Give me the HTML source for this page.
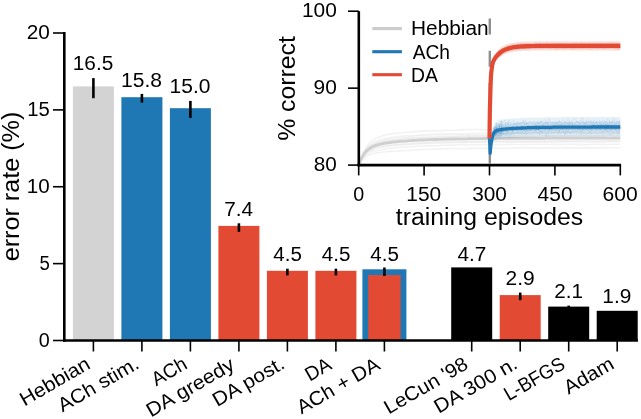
<!DOCTYPE html>
<html><head><meta charset="utf-8"><style>
html,body{margin:0;padding:0;background:#fff;}
svg{display:block;font-family:"Liberation Sans",sans-serif;will-change:transform;}
</style></head><body>
<svg width="641" height="419" viewBox="0 0 641 419">
<rect width="641" height="419" fill="#fff"/>
<rect x="72.90" y="86.40" width="41.00" height="254.10" fill="#d3d3d3"/>
<line x1="93.40" y1="78.1" x2="93.40" y2="98.2" stroke="#000" stroke-width="2.6"/>
<text x="72.79" y="70.40" font-size="20.08" textLength="40.51" lengthAdjust="spacingAndGlyphs" fill="#000">16.5</text>
<line x1="93.40" y1="340.5" x2="93.40" y2="351.5" stroke="#000" stroke-width="1.6"/>
<text x="-76.30" y="0" transform="translate(90.45,368.34) rotate(-30)" font-size="19.69" textLength="77.65" lengthAdjust="spacingAndGlyphs" fill="#000">Hebbian</text>
<rect x="121.40" y="97.20" width="41.00" height="243.30" fill="#1f77b4"/>
<line x1="141.90" y1="93.9" x2="141.90" y2="102.6" stroke="#000" stroke-width="2.6"/>
<text x="121.10" y="86.60" font-size="20.08" textLength="40.92" lengthAdjust="spacingAndGlyphs" fill="#000">15.8</text>
<line x1="141.90" y1="340.5" x2="141.90" y2="351.5" stroke="#000" stroke-width="1.6"/>
<text x="-88.19" y="0" transform="translate(138.95,368.34) rotate(-30)" font-size="19.69" textLength="90.09" lengthAdjust="spacingAndGlyphs" fill="#000">ACh stim.</text>
<rect x="169.90" y="108.20" width="41.00" height="232.30" fill="#1f77b4"/>
<line x1="190.40" y1="100.9" x2="190.40" y2="118.0" stroke="#000" stroke-width="2.6"/>
<text x="169.58" y="92.80" font-size="20.08" textLength="40.86" lengthAdjust="spacingAndGlyphs" fill="#000">15.0</text>
<line x1="190.40" y1="340.5" x2="190.40" y2="351.5" stroke="#000" stroke-width="1.6"/>
<text x="-36.10" y="0" transform="translate(187.45,368.34) rotate(-30)" font-size="19.69" textLength="37.35" lengthAdjust="spacingAndGlyphs" fill="#000">ACh</text>
<rect x="218.40" y="225.90" width="41.00" height="114.60" fill="#e24a33"/>
<line x1="238.90" y1="223.3" x2="238.90" y2="231.9" stroke="#000" stroke-width="2.6"/>
<text x="224.22" y="215.60" font-size="20.08" textLength="28.90" lengthAdjust="spacingAndGlyphs" fill="#000">7.4</text>
<line x1="238.90" y1="340.5" x2="238.90" y2="351.5" stroke="#000" stroke-width="1.6"/>
<text x="-98.21" y="0" transform="translate(235.95,368.34) rotate(-30)" font-size="19.69" textLength="98.25" lengthAdjust="spacingAndGlyphs" fill="#000">DA greedy</text>
<rect x="266.90" y="270.80" width="41.00" height="69.70" fill="#e24a33"/>
<line x1="287.40" y1="268.7" x2="287.40" y2="275.4" stroke="#000" stroke-width="2.6"/>
<text x="273.30" y="261.30" font-size="20.08" textLength="28.60" lengthAdjust="spacingAndGlyphs" fill="#000">4.5</text>
<line x1="287.40" y1="340.5" x2="287.40" y2="351.5" stroke="#000" stroke-width="1.6"/>
<text x="-77.51" y="0" transform="translate(284.45,368.34) rotate(-30)" font-size="19.69" textLength="79.40" lengthAdjust="spacingAndGlyphs" fill="#000">DA post.</text>
<rect x="315.40" y="270.80" width="41.00" height="69.70" fill="#e24a33"/>
<line x1="335.90" y1="268.7" x2="335.90" y2="275.4" stroke="#000" stroke-width="2.6"/>
<text x="321.80" y="261.30" font-size="20.08" textLength="28.60" lengthAdjust="spacingAndGlyphs" fill="#000">4.5</text>
<line x1="335.90" y1="340.5" x2="335.90" y2="351.5" stroke="#000" stroke-width="1.6"/>
<text x="-26.86" y="0" transform="translate(332.95,368.34) rotate(-30)" font-size="19.69" textLength="26.89" lengthAdjust="spacingAndGlyphs" fill="#000">DA</text>
<rect x="362.4" y="269.3" width="44.0" height="71.20" fill="#1f77b4"/>
<rect x="368.2" y="275.0" width="32.4" height="65.50" fill="#e24a33"/>
<line x1="384.40" y1="267.5" x2="384.40" y2="276.0" stroke="#000" stroke-width="2.6"/>
<text x="370.30" y="261.30" font-size="20.08" textLength="28.60" lengthAdjust="spacingAndGlyphs" fill="#000">4.5</text>
<line x1="384.40" y1="340.5" x2="384.40" y2="351.5" stroke="#000" stroke-width="1.6"/>
<text x="-92.44" y="0" transform="translate(381.45,368.34) rotate(-30)" font-size="19.69" textLength="92.48" lengthAdjust="spacingAndGlyphs" fill="#000">ACh + DA</text>
<rect x="451.20" y="267.40" width="41.00" height="73.10" fill="#000"/>
<text x="457.57" y="261.10" font-size="20.08" textLength="28.82" lengthAdjust="spacingAndGlyphs" fill="#000">4.7</text>
<line x1="471.70" y1="340.5" x2="471.70" y2="351.5" stroke="#000" stroke-width="1.6"/>
<text x="-92.38" y="0" transform="translate(468.75,368.34) rotate(-30)" font-size="19.69" textLength="93.28" lengthAdjust="spacingAndGlyphs" fill="#000">LeCun '98</text>
<rect x="499.70" y="295.10" width="41.00" height="45.40" fill="#e24a33"/>
<line x1="520.20" y1="292.6" x2="520.20" y2="300.2" stroke="#000" stroke-width="2.6"/>
<text x="505.58" y="285.20" font-size="20.08" textLength="29.18" lengthAdjust="spacingAndGlyphs" fill="#000">2.9</text>
<line x1="520.20" y1="340.5" x2="520.20" y2="351.5" stroke="#000" stroke-width="1.6"/>
<text x="-90.66" y="0" transform="translate(517.25,368.34) rotate(-30)" font-size="19.69" textLength="92.56" lengthAdjust="spacingAndGlyphs" fill="#000">DA 300 n.</text>
<rect x="548.20" y="306.60" width="41.00" height="33.90" fill="#000"/>
<line x1="568.70" y1="305.6" x2="568.70" y2="307.2" stroke="#000" stroke-width="2.6"/>
<text x="554.30" y="298.30" font-size="20.08" textLength="28.77" lengthAdjust="spacingAndGlyphs" fill="#000">2.1</text>
<line x1="568.70" y1="340.5" x2="568.70" y2="351.5" stroke="#000" stroke-width="1.6"/>
<text x="-65.92" y="0" transform="translate(565.75,368.34) rotate(-30)" font-size="19.69" textLength="66.77" lengthAdjust="spacingAndGlyphs" fill="#000">L-BFGS</text>
<rect x="596.70" y="310.80" width="41.00" height="29.70" fill="#000"/>
<text x="602.39" y="303.00" font-size="20.08" textLength="29.02" lengthAdjust="spacingAndGlyphs" fill="#000">1.9</text>
<line x1="617.20" y1="340.5" x2="617.20" y2="351.5" stroke="#000" stroke-width="1.6"/>
<text x="-52.78" y="0" transform="translate(614.25,368.34) rotate(-30)" font-size="19.69" textLength="54.15" lengthAdjust="spacingAndGlyphs" fill="#000">Adam</text>
<line x1="64.3" y1="32" x2="64.3" y2="341.75" stroke="#000" stroke-width="2.6"/>
<line x1="63" y1="340.5" x2="638" y2="340.5" stroke="#000" stroke-width="2.6"/>
<line x1="53" y1="340.50" x2="64.3" y2="340.50" stroke="#000" stroke-width="1.6"/>
<text x="38.78" y="346.50" font-size="20.08" textLength="10.99" lengthAdjust="spacingAndGlyphs" fill="#000">0</text>
<line x1="53" y1="263.62" x2="64.3" y2="263.62" stroke="#000" stroke-width="1.6"/>
<text x="39.41" y="269.62" font-size="20.08" textLength="10.37" lengthAdjust="spacingAndGlyphs" fill="#000">5</text>
<line x1="53" y1="186.75" x2="64.3" y2="186.75" stroke="#000" stroke-width="1.6"/>
<text x="26.88" y="192.75" font-size="20.08" textLength="22.93" lengthAdjust="spacingAndGlyphs" fill="#000">10</text>
<line x1="53" y1="109.88" x2="64.3" y2="109.88" stroke="#000" stroke-width="1.6"/>
<text x="27.30" y="115.88" font-size="20.08" textLength="22.56" lengthAdjust="spacingAndGlyphs" fill="#000">15</text>
<line x1="53" y1="33.00" x2="64.3" y2="33.00" stroke="#000" stroke-width="1.6"/>
<text x="26.72" y="39.00" font-size="20.08" textLength="23.10" lengthAdjust="spacingAndGlyphs" fill="#000">20</text>
<text x="-74.62" y="0" transform="translate(19.30,186.75) rotate(-90)" font-size="23.00" textLength="149.73" lengthAdjust="spacingAndGlyphs" fill="#000">error rate (%)</text>
<line x1="489.80" y1="18.6" x2="489.80" y2="164" stroke="#8f8f8f" stroke-width="2.4" stroke-dasharray="16 16.2"/>
<polyline points="358.7,165.1 359.1,164.2 359.6,163.4 360.0,162.8 360.4,162.1 360.9,161.5 361.3,161.0 361.8,160.5 362.2,160.0 362.6,159.5 363.1,159.1 363.5,158.7 363.9,158.2 364.4,158.0 364.8,157.5 365.2,157.2 365.7,156.8 366.1,156.5 366.5,156.2 367.0,156.1 367.4,155.9 367.9,155.6 368.3,155.3 368.7,155.1 369.2,154.9 369.6,154.8 370.0,154.5 370.5,154.4 370.9,154.2 371.3,154.1 371.8,154.0 372.2,153.8 372.7,153.7 373.1,153.6 373.5,153.5 374.0,153.4 374.4,153.2 374.8,153.1 375.3,153.0 375.7,153.0 376.1,152.9 377.9,152.6 379.6,152.4 381.4,152.2 383.1,152.0 384.9,151.8 386.6,151.8 388.3,151.5 390.1,151.4 391.8,151.3 393.6,151.2 395.3,151.2 397.1,151.1 398.8,150.9 400.6,150.8 402.3,150.7 404.0,150.7 405.8,150.5 407.5,150.5 409.3,150.4 411.0,150.3 412.8,150.1 414.5,150.0 416.3,150.0 418.0,149.9 419.7,149.7 421.5,149.6 423.2,149.5 425.0,149.4 426.7,149.3 428.5,149.3 430.2,149.3 431.9,149.2 433.7,149.2 435.4,149.1 437.2,149.1 438.9,149.0 440.7,148.9 442.4,148.8 444.2,148.8 445.9,148.7 447.6,148.6 449.4,148.5 451.1,148.5 452.9,148.5 454.6,148.6 456.4,148.7 458.1,148.7 459.9,148.7 461.6,148.7 463.3,148.6 465.1,148.6 466.8,148.6 468.6,148.5 470.3,148.4 472.1,148.3 473.8,148.3 475.5,148.2 477.3,148.1 479.0,148.3 480.8,148.2 482.5,148.2 484.3,148.2 486.0,148.2 487.8,148.2 489.5,148.1 491.2,148.2 493.0,148.2 494.7,148.1 496.5,148.1 498.2,148.2 500.0,148.2 501.7,148.2 503.5,148.2 505.2,148.2 506.9,148.3 508.7,148.3 510.4,148.3 512.2,148.2 513.9,148.1 515.7,148.1 517.4,148.1 519.1,147.9 520.9,147.9 522.6,147.8 524.4,147.9 526.1,147.9 527.9,147.9 529.6,147.9 531.4,147.8 533.1,147.9 534.8,148.0 536.6,148.1 538.3,148.0 540.1,148.0 541.8,147.9 543.6,147.9 545.3,147.9 547.1,147.9 548.8,147.9 550.5,147.9 552.3,147.8 554.0,147.9 555.8,148.0 557.5,148.1 559.3,148.0 561.0,148.0 562.7,148.0 564.5,148.0 566.2,147.9 568.0,147.9 569.7,147.9 571.5,147.9 573.2,147.9 575.0,148.0 576.7,148.0 578.4,147.9 580.2,148.0 581.9,148.0 583.7,148.0 585.4,147.9 587.2,148.0 588.9,147.9 590.7,147.9 592.4,147.9 594.1,147.9 595.9,147.9 597.6,147.9 599.4,147.9 601.1,147.9 602.9,147.8 604.6,147.8 606.3,147.9 608.1,147.8 609.8,147.7 611.6,147.7 613.3,147.7 615.1,147.8 616.8,147.8 618.6,147.7 620.3,147.7" fill="none" stroke="#d3d3d3" stroke-width="1.6" stroke-opacity="0.3" stroke-linejoin="round"/>
<polyline points="358.7,165.1 359.1,164.3 359.6,163.5 360.0,162.5 360.4,161.6 360.9,160.9 361.3,160.2 361.8,159.6 362.2,159.0 362.6,158.4 363.1,157.8 363.5,157.3 363.9,156.8 364.4,156.3 364.8,155.9 365.2,155.5 365.7,155.1 366.1,154.8 366.5,154.4 367.0,154.1 367.4,153.8 367.9,153.5 368.3,153.2 368.7,152.9 369.2,152.6 369.6,152.4 370.0,152.1 370.5,152.0 370.9,151.8 371.3,151.6 371.8,151.5 372.2,151.4 372.7,151.2 373.1,151.1 373.5,150.9 374.0,150.9 374.4,150.8 374.8,150.7 375.3,150.8 375.7,150.7 376.1,150.6 377.9,150.2 379.6,150.0 381.4,149.8 383.1,149.4 384.9,149.1 386.6,148.8 388.3,148.4 390.1,148.2 391.8,148.1 393.6,147.9 395.3,147.7 397.1,147.6 398.8,147.5 400.6,147.4 402.3,147.2 404.0,147.1 405.8,147.0 407.5,147.0 409.3,147.0 411.0,146.8 412.8,146.5 414.5,146.5 416.3,146.3 418.0,146.3 419.7,146.3 421.5,146.2 423.2,146.1 425.0,145.9 426.7,146.0 428.5,146.0 430.2,145.9 431.9,145.9 433.7,145.8 435.4,145.6 437.2,145.5 438.9,145.5 440.7,145.4 442.4,145.4 444.2,145.3 445.9,145.2 447.6,145.1 449.4,145.1 451.1,145.0 452.9,145.1 454.6,145.0 456.4,145.0 458.1,144.8 459.9,144.8 461.6,144.8 463.3,144.8 465.1,144.9 466.8,144.9 468.6,144.8 470.3,144.7 472.1,144.7 473.8,144.7 475.5,144.8 477.3,144.8 479.0,144.7 480.8,144.7 482.5,144.7 484.3,144.7 486.0,144.8 487.8,144.8 489.5,144.8 491.2,144.8 493.0,144.7 494.7,144.8 496.5,144.7 498.2,144.6 500.0,144.6 501.7,144.6 503.5,144.5 505.2,144.5 506.9,144.5 508.7,144.5 510.4,144.4 512.2,144.4 513.9,144.5 515.7,144.5 517.4,144.5 519.1,144.5 520.9,144.6 522.6,144.5 524.4,144.5 526.1,144.6 527.9,144.5 529.6,144.4 531.4,144.3 533.1,144.3 534.8,144.2 536.6,144.2 538.3,144.3 540.1,144.2 541.8,144.2 543.6,144.2 545.3,144.3 547.1,144.4 548.8,144.5 550.5,144.5 552.3,144.4 554.0,144.4 555.8,144.3 557.5,144.4 559.3,144.5 561.0,144.4 562.7,144.4 564.5,144.3 566.2,144.2 568.0,144.2 569.7,144.2 571.5,144.3 573.2,144.3 575.0,144.4 576.7,144.4 578.4,144.4 580.2,144.4 581.9,144.5 583.7,144.6 585.4,144.6 587.2,144.6 588.9,144.6 590.7,144.3 592.4,144.3 594.1,144.3 595.9,144.4 597.6,144.4 599.4,144.3 601.1,144.4 602.9,144.3 604.6,144.4 606.3,144.5 608.1,144.5 609.8,144.4 611.6,144.3 613.3,144.3 615.1,144.3 616.8,144.2 618.6,144.3 620.3,144.3" fill="none" stroke="#d3d3d3" stroke-width="1.6" stroke-opacity="0.3" stroke-linejoin="round"/>
<polyline points="358.7,165.1 359.1,163.9 359.6,162.9 360.0,161.9 360.4,161.0 360.9,160.0 361.3,159.2 361.8,158.3 362.2,157.7 362.6,157.0 363.1,156.5 363.5,155.9 363.9,155.3 364.4,154.8 364.8,154.4 365.2,153.9 365.7,153.6 366.1,153.1 366.5,152.8 367.0,152.3 367.4,152.0 367.9,151.8 368.3,151.4 368.7,151.2 369.2,151.0 369.6,150.7 370.0,150.4 370.5,150.2 370.9,150.0 371.3,149.8 371.8,149.6 372.2,149.3 372.7,149.1 373.1,148.8 373.5,148.7 374.0,148.5 374.4,148.3 374.8,148.2 375.3,148.0 375.7,147.9 376.1,147.7 377.9,147.3 379.6,147.0 381.4,146.6 383.1,146.4 384.9,146.0 386.6,145.8 388.3,145.6 390.1,145.5 391.8,145.3 393.6,145.2 395.3,145.0 397.1,144.9 398.8,144.7 400.6,144.7 402.3,144.5 404.0,144.4 405.8,144.3 407.5,144.2 409.3,144.1 411.0,143.9 412.8,143.8 414.5,143.8 416.3,143.6 418.0,143.5 419.7,143.4 421.5,143.4 423.2,143.2 425.0,143.1 426.7,143.0 428.5,142.9 430.2,142.8 431.9,142.8 433.7,142.6 435.4,142.5 437.2,142.4 438.9,142.5 440.7,142.5 442.4,142.4 444.2,142.4 445.9,142.4 447.6,142.4 449.4,142.5 451.1,142.3 452.9,142.3 454.6,142.2 456.4,142.2 458.1,142.1 459.9,142.2 461.6,142.1 463.3,142.1 465.1,142.1 466.8,142.1 468.6,141.9 470.3,141.9 472.1,141.9 473.8,142.0 475.5,141.9 477.3,141.9 479.0,141.8 480.8,141.7 482.5,141.8 484.3,141.9 486.0,141.8 487.8,141.7 489.5,141.5 491.2,141.5 493.0,141.5 494.7,141.5 496.5,141.5 498.2,141.5 500.0,141.5 501.7,141.5 503.5,141.5 505.2,141.6 506.9,141.6 508.7,141.5 510.4,141.6 512.2,141.6 513.9,141.5 515.7,141.6 517.4,141.5 519.1,141.5 520.9,141.6 522.6,141.6 524.4,141.6 526.1,141.6 527.9,141.6 529.6,141.7 531.4,141.6 533.1,141.6 534.8,141.6 536.6,141.6 538.3,141.6 540.1,141.6 541.8,141.6 543.6,141.6 545.3,141.4 547.1,141.5 548.8,141.5 550.5,141.5 552.3,141.5 554.0,141.5 555.8,141.4 557.5,141.5 559.3,141.4 561.0,141.4 562.7,141.3 564.5,141.3 566.2,141.3 568.0,141.3 569.7,141.3 571.5,141.3 573.2,141.2 575.0,141.3 576.7,141.3 578.4,141.2 580.2,141.2 581.9,141.2 583.7,141.2 585.4,141.2 587.2,141.2 588.9,141.4 590.7,141.3 592.4,141.4 594.1,141.5 595.9,141.6 597.6,141.5 599.4,141.5 601.1,141.5 602.9,141.4 604.6,141.2 606.3,141.2 608.1,141.1 609.8,141.1 611.6,141.1 613.3,141.2 615.1,141.1 616.8,141.2 618.6,141.2 620.3,141.3" fill="none" stroke="#d3d3d3" stroke-width="1.6" stroke-opacity="0.3" stroke-linejoin="round"/>
<polyline points="358.7,165.4 359.1,164.0 359.6,162.8 360.0,161.5 360.4,160.3 360.9,159.4 361.3,158.4 361.8,157.3 362.2,156.4 362.6,155.5 363.1,154.7 363.5,153.9 363.9,153.2 364.4,152.5 364.8,151.8 365.2,151.2 365.7,150.6 366.1,150.0 366.5,149.6 367.0,149.2 367.4,148.8 367.9,148.3 368.3,147.9 368.7,147.5 369.2,147.1 369.6,146.9 370.0,146.6 370.5,146.3 370.9,145.9 371.3,145.7 371.8,145.6 372.2,145.3 372.7,145.2 373.1,145.0 373.5,144.7 374.0,144.4 374.4,144.3 374.8,144.1 375.3,143.8 375.7,143.6 376.1,143.4 377.9,142.8 379.6,142.3 381.4,141.8 383.1,141.5 384.9,141.1 386.6,140.8 388.3,140.6 390.1,140.3 391.8,140.2 393.6,139.9 395.3,139.7 397.1,139.5 398.8,139.2 400.6,139.0 402.3,138.8 404.0,138.6 405.8,138.4 407.5,138.2 409.3,138.1 411.0,138.0 412.8,137.9 414.5,137.8 416.3,137.9 418.0,138.0 419.7,138.0 421.5,137.8 423.2,137.9 425.0,137.8 426.7,137.7 428.5,137.6 430.2,137.5 431.9,137.4 433.7,137.3 435.4,137.2 437.2,137.2 438.9,137.1 440.7,137.0 442.4,137.0 444.2,137.0 445.9,137.0 447.6,136.9 449.4,136.9 451.1,136.9 452.9,136.8 454.6,136.7 456.4,136.6 458.1,136.6 459.9,136.5 461.6,136.3 463.3,136.4 465.1,136.3 466.8,136.1 468.6,136.0 470.3,136.1 472.1,136.2 473.8,136.0 475.5,136.0 477.3,136.0 479.0,136.0 480.8,136.0 482.5,136.0 484.3,136.1 486.0,136.1 487.8,136.0 489.5,136.1 491.2,136.2 493.0,136.2 494.7,136.3 496.5,136.2 498.2,136.2 500.0,136.2 501.7,136.4 503.5,136.3 505.2,136.3 506.9,136.1 508.7,136.0 510.4,136.0 512.2,136.1 513.9,136.1 515.7,136.1 517.4,136.0 519.1,136.1 520.9,136.2 522.6,136.2 524.4,136.4 526.1,136.4 527.9,136.3 529.6,136.2 531.4,136.2 533.1,136.2 534.8,136.2 536.6,136.2 538.3,136.2 540.1,136.0 541.8,135.9 543.6,135.8 545.3,135.8 547.1,135.8 548.8,135.7 550.5,135.7 552.3,135.6 554.0,135.6 555.8,135.7 557.5,135.8 559.3,135.9 561.0,136.0 562.7,136.0 564.5,135.9 566.2,135.9 568.0,135.9 569.7,135.9 571.5,135.8 573.2,135.9 575.0,135.9 576.7,135.8 578.4,135.7 580.2,135.8 581.9,135.8 583.7,135.8 585.4,135.8 587.2,135.9 588.9,135.7 590.7,135.8 592.4,135.9 594.1,135.9 595.9,135.9 597.6,136.0 599.4,135.8 601.1,135.9 602.9,135.9 604.6,136.0 606.3,135.9 608.1,135.8 609.8,135.8 611.6,136.0 613.3,136.0 615.1,136.2 616.8,136.1 618.6,136.2 620.3,136.1" fill="none" stroke="#d3d3d3" stroke-width="1.6" stroke-opacity="0.3" stroke-linejoin="round"/>
<polyline points="358.7,164.9 359.1,163.6 359.6,162.2 360.0,161.0 360.4,159.8 360.9,158.7 361.3,157.6 361.8,156.6 362.2,155.7 362.6,154.9 363.1,154.0 363.5,153.2 363.9,152.5 364.4,151.8 364.8,151.0 365.2,150.4 365.7,149.9 366.1,149.2 366.5,148.5 367.0,147.9 367.4,147.4 367.9,146.9 368.3,146.5 368.7,146.0 369.2,145.7 369.6,145.3 370.0,145.0 370.5,144.7 370.9,144.6 371.3,144.2 371.8,144.0 372.2,143.7 372.7,143.5 373.1,143.2 373.5,142.9 374.0,142.8 374.4,142.5 374.8,142.2 375.3,142.0 375.7,141.7 376.1,141.4 377.9,140.7 379.6,140.1 381.4,139.7 383.1,139.2 384.9,138.7 386.6,138.4 388.3,138.0 390.1,137.8 391.8,137.4 393.6,137.2 395.3,137.0 397.1,136.6 398.8,136.4 400.6,136.3 402.3,136.1 404.0,136.0 405.8,135.8 407.5,135.7 409.3,135.7 411.0,135.6 412.8,135.6 414.5,135.5 416.3,135.3 418.0,135.2 419.7,135.1 421.5,135.1 423.2,134.9 425.0,134.7 426.7,134.5 428.5,134.5 430.2,134.4 431.9,134.3 433.7,134.3 435.4,134.3 437.2,134.1 438.9,134.1 440.7,134.2 442.4,134.1 444.2,134.1 445.9,134.1 447.6,134.1 449.4,134.1 451.1,134.1 452.9,134.0 454.6,134.1 456.4,134.0 458.1,134.0 459.9,134.0 461.6,133.9 463.3,134.0 465.1,133.8 466.8,133.7 468.6,133.6 470.3,133.5 472.1,133.4 473.8,133.4 475.5,133.4 477.3,133.3 479.0,133.3 480.8,133.3 482.5,133.4 484.3,133.4 486.0,133.3 487.8,133.4 489.5,133.4 491.2,133.3 493.0,133.4 494.7,133.3 496.5,133.3 498.2,133.4 500.0,133.5 501.7,133.4 503.5,133.4 505.2,133.4 506.9,133.3 508.7,133.4 510.4,133.4 512.2,133.4 513.9,133.2 515.7,133.3 517.4,133.3 519.1,133.3 520.9,133.4 522.6,133.4 524.4,133.3 526.1,133.4 527.9,133.4 529.6,133.4 531.4,133.2 533.1,133.3 534.8,133.2 536.6,133.1 538.3,133.2 540.1,133.2 541.8,133.1 543.6,133.1 545.3,133.2 547.1,133.3 548.8,133.2 550.5,133.3 552.3,133.3 554.0,133.3 555.8,133.3 557.5,133.2 559.3,133.1 561.0,133.1 562.7,132.9 564.5,133.0 566.2,132.9 568.0,132.9 569.7,132.9 571.5,132.8 573.2,132.9 575.0,133.0 576.7,133.0 578.4,133.1 580.2,133.0 581.9,133.1 583.7,133.0 585.4,133.1 587.2,133.2 588.9,133.0 590.7,133.1 592.4,133.1 594.1,133.2 595.9,133.2 597.6,133.2 599.4,133.2 601.1,133.3 602.9,133.3 604.6,133.4 606.3,133.4 608.1,133.4 609.8,133.3 611.6,133.3 613.3,133.3 615.1,133.2 616.8,133.2 618.6,133.2 620.3,133.1" fill="none" stroke="#d3d3d3" stroke-width="1.6" stroke-opacity="0.3" stroke-linejoin="round"/>
<polyline points="358.7,164.9 359.1,163.3 359.6,161.8 360.0,160.4 360.4,159.1 360.9,158.0 361.3,156.9 361.8,155.9 362.2,154.8 362.6,153.8 363.1,152.9 363.5,152.0 363.9,151.1 364.4,150.4 364.8,149.6 365.2,148.9 365.7,148.2 366.1,147.6 366.5,146.8 367.0,146.3 367.4,145.7 367.9,145.2 368.3,144.6 368.7,144.0 369.2,143.5 369.6,142.9 370.0,142.4 370.5,142.1 370.9,141.6 371.3,141.3 371.8,140.9 372.2,140.6 372.7,140.2 373.1,139.9 373.5,139.5 374.0,139.5 374.4,139.2 374.8,138.9 375.3,138.7 375.7,138.5 376.1,138.3 377.9,137.6 379.6,136.9 381.4,136.2 383.1,135.6 384.9,135.2 386.6,134.8 388.3,134.5 390.1,134.1 391.8,133.8 393.6,133.5 395.3,133.2 397.1,133.1 398.8,133.0 400.6,132.8 402.3,132.7 404.0,132.5 405.8,132.5 407.5,132.3 409.3,132.2 411.0,132.1 412.8,131.9 414.5,131.7 416.3,131.6 418.0,131.4 419.7,131.2 421.5,131.0 423.2,131.0 425.0,130.9 426.7,130.9 428.5,130.9 430.2,131.0 431.9,130.9 433.7,130.9 435.4,130.9 437.2,130.8 438.9,130.7 440.7,130.7 442.4,130.5 444.2,130.6 445.9,130.4 447.6,130.4 449.4,130.3 451.1,130.3 452.9,130.3 454.6,130.3 456.4,130.2 458.1,130.2 459.9,130.1 461.6,130.0 463.3,129.8 465.1,129.8 466.8,129.8 468.6,129.6 470.3,129.5 472.1,129.5 473.8,129.5 475.5,129.5 477.3,129.6 479.0,129.7 480.8,129.6 482.5,129.6 484.3,129.7 486.0,129.8 487.8,129.8 489.5,129.8 491.2,129.8 493.0,129.7 494.7,129.7 496.5,129.7 498.2,129.6 500.0,129.6 501.7,129.5 503.5,129.5 505.2,129.4 506.9,129.4 508.7,129.4 510.4,129.4 512.2,129.5 513.9,129.5 515.7,129.6 517.4,129.5 519.1,129.5 520.9,129.5 522.6,129.5 524.4,129.7 526.1,129.7 527.9,129.8 529.6,129.7 531.4,129.6 533.1,129.6 534.8,129.6 536.6,129.7 538.3,129.6 540.1,129.5 541.8,129.4 543.6,129.3 545.3,129.1 547.1,129.1 548.8,129.1 550.5,129.0 552.3,129.0 554.0,129.1 555.8,129.2 557.5,129.2 559.3,129.3 561.0,129.4 562.7,129.4 564.5,129.3 566.2,129.4 568.0,129.4 569.7,129.4 571.5,129.3 573.2,129.3 575.0,129.2 576.7,129.3 578.4,129.4 580.2,129.5 581.9,129.5 583.7,129.4 585.4,129.5 587.2,129.5 588.9,129.6 590.7,129.5 592.4,129.5 594.1,129.4 595.9,129.5 597.6,129.6 599.4,129.5 601.1,129.6 602.9,129.6 604.6,129.5 606.3,129.6 608.1,129.6 609.8,129.6 611.6,129.5 613.3,129.4 615.1,129.6 616.8,129.5 618.6,129.5 620.3,129.6" fill="none" stroke="#d3d3d3" stroke-width="1.6" stroke-opacity="0.3" stroke-linejoin="round"/>
<polygon points="358.7,165.1 359.1,163.7 359.6,162.3 360.0,161.1 360.4,159.9 360.9,158.7 361.3,157.7 361.8,156.7 362.2,155.7 362.6,154.8 363.1,154.0 363.5,153.2 363.9,152.4 364.4,151.7 364.8,151.1 365.2,150.4 365.7,149.8 366.1,149.2 366.5,148.7 367.0,148.2 367.4,147.7 367.9,147.2 368.3,146.8 368.7,146.4 369.2,146.0 369.6,145.6 370.0,145.2 370.5,144.9 370.9,144.6 371.3,144.2 371.8,144.0 372.2,143.7 372.7,143.4 373.1,143.1 373.5,142.9 374.0,142.7 374.4,142.4 374.8,142.2 375.3,142.0 375.7,141.8 376.1,141.6 377.9,141.0 379.6,140.4 381.4,139.9 383.1,139.4 384.9,139.0 386.6,138.7 388.3,138.4 390.1,138.1 391.8,137.9 393.6,137.6 395.3,137.4 397.1,137.2 398.8,137.0 400.6,136.9 402.3,136.7 404.0,136.5 405.8,136.4 407.5,136.3 409.3,136.1 411.0,136.0 412.8,135.9 414.5,135.8 416.3,135.7 418.0,135.6 419.7,135.5 421.5,135.4 423.2,135.3 425.0,135.3 426.7,135.2 428.5,135.1 430.2,135.1 431.9,135.0 433.7,134.9 435.4,134.9 437.2,134.8 438.9,134.7 440.7,134.7 442.4,134.6 444.2,134.6 445.9,134.6 447.6,134.5 449.4,134.5 451.1,134.4 452.9,134.4 454.6,134.4 456.4,134.3 458.1,134.3 459.9,134.3 461.6,134.2 463.3,134.2 465.1,134.2 466.8,134.1 468.6,134.1 470.3,134.1 472.1,134.1 473.8,134.0 475.5,134.0 477.3,134.0 479.0,134.0 480.8,134.0 482.5,133.9 484.3,133.9 486.0,133.9 487.8,133.9 489.5,133.9 491.2,133.9 493.0,133.9 494.7,133.8 496.5,133.8 498.2,133.8 500.0,133.8 501.7,133.8 503.5,133.8 505.2,133.8 506.9,133.8 508.7,133.8 510.4,133.7 512.2,133.7 513.9,133.7 515.7,133.7 517.4,133.7 519.1,133.7 520.9,133.7 522.6,133.7 524.4,133.7 526.1,133.7 527.9,133.7 529.6,133.7 531.4,133.7 533.1,133.7 534.8,133.7 536.6,133.6 538.3,133.6 540.1,133.6 541.8,133.6 543.6,133.6 545.3,133.6 547.1,133.6 548.8,133.6 550.5,133.6 552.3,133.6 554.0,133.6 555.8,133.6 557.5,133.6 559.3,133.6 561.0,133.6 562.7,133.6 564.5,133.6 566.2,133.6 568.0,133.6 569.7,133.6 571.5,133.6 573.2,133.6 575.0,133.6 576.7,133.6 578.4,133.6 580.2,133.6 581.9,133.6 583.7,133.6 585.4,133.6 587.2,133.6 588.9,133.6 590.7,133.6 592.4,133.6 594.1,133.6 595.9,133.6 597.6,133.6 599.4,133.6 601.1,133.6 602.9,133.6 604.6,133.6 606.3,133.6 608.1,133.6 609.8,133.6 611.6,133.6 613.3,133.6 615.1,133.6 616.8,133.6 618.6,133.6 620.3,133.6 620.3,142.8 618.6,142.8 616.8,142.8 615.1,142.8 613.3,142.8 611.6,142.8 609.8,142.8 608.1,142.8 606.3,142.8 604.6,142.8 602.9,142.8 601.1,142.8 599.4,142.8 597.6,142.8 595.9,142.8 594.1,142.8 592.4,142.8 590.7,142.8 588.9,142.8 587.2,142.8 585.4,142.8 583.7,142.8 581.9,142.8 580.2,142.8 578.4,142.8 576.7,142.8 575.0,142.8 573.2,142.8 571.5,142.8 569.7,142.8 568.0,142.8 566.2,142.8 564.5,142.8 562.7,142.8 561.0,142.8 559.3,142.8 557.5,142.8 555.8,142.8 554.0,142.8 552.3,142.9 550.5,142.9 548.8,142.9 547.1,142.9 545.3,142.9 543.6,142.9 541.8,142.9 540.1,142.9 538.3,142.9 536.6,142.9 534.8,142.9 533.1,142.9 531.4,142.9 529.6,142.9 527.9,142.9 526.1,142.9 524.4,142.9 522.6,142.9 520.9,142.9 519.1,142.9 517.4,142.9 515.7,143.0 513.9,143.0 512.2,143.0 510.4,143.0 508.7,143.0 506.9,143.0 505.2,143.0 503.5,143.0 501.7,143.0 500.0,143.0 498.2,143.0 496.5,143.1 494.7,143.1 493.0,143.1 491.2,143.1 489.5,143.1 487.8,143.1 486.0,143.1 484.3,143.2 482.5,143.2 480.8,143.2 479.0,143.2 477.3,143.2 475.5,143.3 473.8,143.3 472.1,143.3 470.3,143.3 468.6,143.3 466.8,143.4 465.1,143.4 463.3,143.4 461.6,143.5 459.9,143.5 458.1,143.5 456.4,143.6 454.6,143.6 452.9,143.6 451.1,143.7 449.4,143.7 447.6,143.7 445.9,143.8 444.2,143.8 442.4,143.9 440.7,143.9 438.9,144.0 437.2,144.0 435.4,144.1 433.7,144.1 431.9,144.2 430.2,144.3 428.5,144.3 426.7,144.4 425.0,144.5 423.2,144.6 421.5,144.6 419.7,144.7 418.0,144.8 416.3,144.9 414.5,145.0 412.8,145.1 411.0,145.2 409.3,145.3 407.5,145.4 405.8,145.5 404.0,145.6 402.3,145.8 400.6,145.9 398.8,146.0 397.1,146.2 395.3,146.3 393.6,146.5 391.8,146.6 390.1,146.8 388.3,147.0 386.6,147.2 384.9,147.4 383.1,147.7 381.4,147.9 379.6,148.2 377.9,148.6 376.1,149.0 375.7,149.1 375.3,149.2 374.8,149.4 374.4,149.5 374.0,149.6 373.5,149.8 373.1,149.9 372.7,150.1 372.2,150.2 371.8,150.4 371.3,150.6 370.9,150.8 370.5,151.0 370.0,151.2 369.6,151.4 369.2,151.7 368.7,151.9 368.3,152.2 367.9,152.5 367.4,152.8 367.0,153.1 366.5,153.4 366.1,153.8 365.7,154.2 365.2,154.6 364.8,155.0 364.4,155.5 363.9,156.0 363.5,156.5 363.1,157.0 362.6,157.6 362.2,158.3 361.8,158.9 361.3,159.7 360.9,160.4 360.4,161.2 360.0,162.1 359.6,163.0 359.1,164.0 358.7,165.1" fill="#d3d3d3" fill-opacity="0.18" stroke="none"/>
<polyline points="358.7,165.1 359.1,163.9 359.6,162.7 360.0,161.6 360.4,160.6 360.9,159.6 361.3,158.7 361.8,157.8 362.2,157.0 362.6,156.2 363.1,155.5 363.5,154.8 363.9,154.2 364.4,153.6 364.8,153.0 365.2,152.5 365.7,152.0 366.1,151.5 366.5,151.1 367.0,150.6 367.4,150.2 367.9,149.8 368.3,149.5 368.7,149.1 369.2,148.8 369.6,148.5 370.0,148.2 370.5,147.9 370.9,147.7 371.3,147.4 371.8,147.2 372.2,147.0 372.7,146.7 373.1,146.5 373.5,146.3 374.0,146.1 374.4,146.0 374.8,145.8 375.3,145.6 375.7,145.5 376.1,145.3 377.9,144.8 379.6,144.3 381.4,143.9 383.1,143.5 384.9,143.2 386.6,143.0 388.3,142.7 390.1,142.5 391.8,142.2 393.6,142.0 395.3,141.9 397.1,141.7 398.8,141.5 400.6,141.4 402.3,141.2 404.0,141.1 405.8,141.0 407.5,140.8 409.3,140.7 411.0,140.6 412.8,140.5 414.5,140.4 416.3,140.3 418.0,140.2 419.7,140.1 421.5,140.0 423.2,140.0 425.0,139.9 426.7,139.8 428.5,139.7 430.2,139.7 431.9,139.6 433.7,139.5 435.4,139.5 437.2,139.4 438.9,139.4 440.7,139.3 442.4,139.3 444.2,139.2 445.9,139.2 447.6,139.1 449.4,139.1 451.1,139.0 452.9,139.0 454.6,139.0 456.4,138.9 458.1,138.9 459.9,138.9 461.6,138.8 463.3,138.8 465.1,138.8 466.8,138.8 468.6,138.7 470.3,138.7 472.1,138.7 473.8,138.7 475.5,138.6 477.3,138.6 479.0,138.6 480.8,138.6 482.5,138.6 484.3,138.5 486.0,138.5 487.8,138.5 489.5,138.5 491.2,138.5 493.0,138.5 494.7,138.5 496.5,138.4 498.2,138.4 500.0,138.4 501.7,138.4 503.5,138.4 505.2,138.4 506.9,138.4 508.7,138.4 510.4,138.4 512.2,138.4 513.9,138.3 515.7,138.3 517.4,138.3 519.1,138.3 520.9,138.3 522.6,138.3 524.4,138.3 526.1,138.3 527.9,138.3 529.6,138.3 531.4,138.3 533.1,138.3 534.8,138.3 536.6,138.3 538.3,138.3 540.1,138.3 541.8,138.3 543.6,138.3 545.3,138.2 547.1,138.2 548.8,138.2 550.5,138.2 552.3,138.2 554.0,138.2 555.8,138.2 557.5,138.2 559.3,138.2 561.0,138.2 562.7,138.2 564.5,138.2 566.2,138.2 568.0,138.2 569.7,138.2 571.5,138.2 573.2,138.2 575.0,138.2 576.7,138.2 578.4,138.2 580.2,138.2 581.9,138.2 583.7,138.2 585.4,138.2 587.2,138.2 588.9,138.2 590.7,138.2 592.4,138.2 594.1,138.2 595.9,138.2 597.6,138.2 599.4,138.2 601.1,138.2 602.9,138.2 604.6,138.2 606.3,138.2 608.1,138.2 609.8,138.2 611.6,138.2 613.3,138.2 615.1,138.2 616.8,138.2 618.6,138.2 620.3,138.2" fill="none" stroke="#cfcfcf" stroke-width="2.8" stroke-opacity="1.0" stroke-linejoin="round"/>
<polygon points="490.2,151.1 490.4,147.8 490.6,144.9 490.8,142.3 491.0,140.0 491.2,137.9 491.5,136.1 491.7,134.4 491.9,133.0 492.1,131.7 492.3,130.5 492.6,129.4 492.8,128.5 493.0,127.6 493.2,126.9 493.4,126.2 493.6,125.6 493.9,125.0 494.1,124.5 494.3,124.1 494.5,123.7 494.7,123.3 494.9,123.0 495.2,122.7 495.4,122.4 495.6,122.2 495.8,121.9 496.0,121.7 496.3,121.5 496.5,121.4 496.7,121.2 496.9,121.1 497.1,120.9 497.3,120.8 497.6,120.7 497.8,120.6 498.0,120.5 498.2,120.4 498.4,120.3 498.7,120.3 498.9,120.2 499.1,120.1 499.3,120.1 499.5,120.0 499.7,119.9 500.0,119.9 500.2,119.8 500.4,119.8 500.6,119.7 500.8,119.7 501.1,119.7 501.3,119.6 501.5,119.6 501.7,119.5 501.9,119.5 502.1,119.5 502.4,119.4 502.6,119.4 503.7,119.3 504.8,119.1 505.8,119.0 506.9,118.9 508.0,118.8 509.1,118.7 510.2,118.6 511.3,118.6 512.4,118.5 513.5,118.4 514.6,118.3 515.7,118.3 516.8,118.2 517.8,118.2 518.9,118.1 520.0,118.0 521.1,118.0 522.2,118.0 523.3,117.9 524.4,117.9 525.5,117.8 526.6,117.8 527.6,117.7 528.7,117.7 529.8,117.7 530.9,117.6 532.0,117.6 533.1,117.6 534.2,117.6 535.3,117.5 536.4,117.5 537.5,117.5 538.5,117.5 539.6,117.4 540.7,117.4 541.8,117.4 542.9,117.4 544.0,117.4 545.1,117.3 546.2,117.3 547.3,117.3 548.4,117.3 549.4,117.3 550.5,117.3 551.6,117.3 552.7,117.2 553.8,117.2 554.9,117.2 556.0,117.2 557.1,117.2 558.2,117.2 559.3,117.2 560.3,117.2 561.4,117.2 562.5,117.2 563.6,117.1 564.7,117.1 565.8,117.1 566.9,117.1 568.0,117.1 569.1,117.1 570.2,117.1 571.2,117.1 572.3,117.1 573.4,117.1 574.5,117.1 575.6,117.1 576.7,117.1 577.8,117.1 578.9,117.1 580.0,117.1 581.1,117.1 582.1,117.1 583.2,117.1 584.3,117.1 585.4,117.1 586.5,117.1 587.6,117.1 588.7,117.1 589.8,117.0 590.9,117.0 592.0,117.0 593.0,117.0 594.1,117.0 595.2,117.0 596.3,117.0 597.4,117.0 598.5,117.0 599.6,117.0 600.7,117.0 601.8,117.0 602.9,117.0 603.9,117.0 605.0,117.0 606.1,117.0 607.2,117.0 608.3,117.0 609.4,117.0 610.5,117.0 611.6,117.0 612.7,117.0 613.8,117.0 614.8,117.0 615.9,117.0 617.0,117.0 618.1,117.0 619.2,117.0 620.3,117.0 620.3,136.6 619.2,136.6 618.1,136.6 617.0,136.6 615.9,136.6 614.8,136.6 613.8,136.6 612.7,136.6 611.6,136.6 610.5,136.6 609.4,136.6 608.3,136.6 607.2,136.6 606.1,136.6 605.0,136.6 603.9,136.7 602.9,136.7 601.8,136.7 600.7,136.7 599.6,136.7 598.5,136.7 597.4,136.7 596.3,136.7 595.2,136.7 594.1,136.7 593.0,136.7 592.0,136.7 590.9,136.7 589.8,136.7 588.7,136.7 587.6,136.7 586.5,136.7 585.4,136.7 584.3,136.7 583.2,136.7 582.1,136.7 581.1,136.7 580.0,136.7 578.9,136.7 577.8,136.7 576.7,136.7 575.6,136.7 574.5,136.7 573.4,136.7 572.3,136.7 571.2,136.7 570.2,136.7 569.1,136.7 568.0,136.7 566.9,136.8 565.8,136.8 564.7,136.8 563.6,136.8 562.5,136.8 561.4,136.8 560.3,136.8 559.3,136.8 558.2,136.8 557.1,136.8 556.0,136.8 554.9,136.8 553.8,136.9 552.7,136.9 551.6,136.9 550.5,136.9 549.4,136.9 548.4,136.9 547.3,136.9 546.2,136.9 545.1,137.0 544.0,137.0 542.9,137.0 541.8,137.0 540.7,137.0 539.6,137.1 538.5,137.1 537.5,137.1 536.4,137.1 535.3,137.1 534.2,137.2 533.1,137.2 532.0,137.2 530.9,137.3 529.8,137.3 528.7,137.3 527.6,137.4 526.6,137.4 525.5,137.4 524.4,137.5 523.3,137.5 522.2,137.6 521.1,137.6 520.0,137.7 518.9,137.7 517.8,137.8 516.8,137.8 515.7,137.9 514.6,138.0 513.5,138.0 512.4,138.1 511.3,138.2 510.2,138.3 509.1,138.3 508.0,138.4 506.9,138.5 505.8,138.6 504.8,138.7 503.7,138.8 502.6,138.9 502.4,138.9 502.1,138.9 501.9,139.0 501.7,139.0 501.5,139.0 501.3,139.0 501.1,139.0 500.8,139.1 500.6,139.1 500.4,139.1 500.2,139.1 500.0,139.2 499.7,139.2 499.5,139.2 499.3,139.2 499.1,139.2 498.9,139.3 498.7,139.3 498.4,139.3 498.2,139.4 498.0,139.4 497.8,139.4 497.6,139.4 497.3,139.5 497.1,139.5 496.9,139.6 496.7,139.6 496.5,139.7 496.3,139.7 496.0,139.8 495.8,139.9 495.6,140.0 495.4,140.1 495.2,140.2 494.9,140.3 494.7,140.4 494.5,140.6 494.3,140.8 494.1,141.0 493.9,141.3 493.6,141.5 493.4,141.9 493.2,142.3 493.0,142.7 492.8,143.2 492.6,143.8 492.3,144.5 492.1,145.3 491.9,146.2 491.7,147.3 491.5,148.5 491.2,149.9 491.0,151.6 490.8,153.4 490.6,155.6 490.4,158.1 490.2,161.1" fill="#1f77b4" fill-opacity="0.11" stroke="none"/>
<polygon points="490.2,152.1 490.4,149.2 490.6,146.5 490.8,144.1 491.0,142.0 491.2,140.2 491.5,138.5 491.7,137.1 491.9,135.7 492.1,134.6 492.3,133.5 492.6,132.6 492.8,131.8 493.0,131.0 493.2,130.4 493.4,129.8 493.6,129.2 493.9,128.8 494.1,128.3 494.3,127.9 494.5,127.6 494.7,127.3 494.9,127.0 495.2,126.8 495.4,126.5 495.6,126.3 495.8,126.1 496.0,126.0 496.3,125.8 496.5,125.7 496.7,125.5 496.9,125.4 497.1,125.3 497.3,125.2 497.6,125.1 497.8,125.0 498.0,124.9 498.2,124.9 498.4,124.8 498.7,124.7 498.9,124.7 499.1,124.6 499.3,124.6 499.5,124.5 499.7,124.5 500.0,124.4 500.2,124.4 500.4,124.3 500.6,124.3 500.8,124.3 501.1,124.2 501.3,124.2 501.5,124.2 501.7,124.1 501.9,124.1 502.1,124.1 502.4,124.0 502.6,124.0 503.7,123.9 504.8,123.7 505.8,123.6 506.9,123.5 508.0,123.4 509.1,123.3 510.2,123.3 511.3,123.2 512.4,123.1 513.5,123.0 514.6,123.0 515.7,122.9 516.8,122.8 517.8,122.8 518.9,122.7 520.0,122.7 521.1,122.6 522.2,122.6 523.3,122.5 524.4,122.5 525.5,122.4 526.6,122.4 527.6,122.4 528.7,122.3 529.8,122.3 530.9,122.3 532.0,122.2 533.1,122.2 534.2,122.2 535.3,122.1 536.4,122.1 537.5,122.1 538.5,122.1 539.6,122.0 540.7,122.0 541.8,122.0 542.9,122.0 544.0,122.0 545.1,122.0 546.2,121.9 547.3,121.9 548.4,121.9 549.4,121.9 550.5,121.9 551.6,121.9 552.7,121.9 553.8,121.8 554.9,121.8 556.0,121.8 557.1,121.8 558.2,121.8 559.3,121.8 560.3,121.8 561.4,121.8 562.5,121.8 563.6,121.8 564.7,121.8 565.8,121.8 566.9,121.7 568.0,121.7 569.1,121.7 570.2,121.7 571.2,121.7 572.3,121.7 573.4,121.7 574.5,121.7 575.6,121.7 576.7,121.7 577.8,121.7 578.9,121.7 580.0,121.7 581.1,121.7 582.1,121.7 583.2,121.7 584.3,121.7 585.4,121.7 586.5,121.7 587.6,121.7 588.7,121.7 589.8,121.7 590.9,121.7 592.0,121.7 593.0,121.7 594.1,121.7 595.2,121.7 596.3,121.7 597.4,121.7 598.5,121.7 599.6,121.7 600.7,121.6 601.8,121.6 602.9,121.6 603.9,121.6 605.0,121.6 606.1,121.6 607.2,121.6 608.3,121.6 609.4,121.6 610.5,121.6 611.6,121.6 612.7,121.6 613.8,121.6 614.8,121.6 615.9,121.6 617.0,121.6 618.1,121.6 619.2,121.6 620.3,121.6 620.3,132.8 619.2,132.8 618.1,132.8 617.0,132.8 615.9,132.8 614.8,132.8 613.8,132.8 612.7,132.8 611.6,132.8 610.5,132.8 609.4,132.8 608.3,132.8 607.2,132.8 606.1,132.8 605.0,132.8 603.9,132.8 602.9,132.8 601.8,132.8 600.7,132.8 599.6,132.8 598.5,132.8 597.4,132.8 596.3,132.8 595.2,132.8 594.1,132.8 593.0,132.8 592.0,132.8 590.9,132.8 589.8,132.8 588.7,132.8 587.6,132.8 586.5,132.8 585.4,132.8 584.3,132.8 583.2,132.8 582.1,132.8 581.1,132.8 580.0,132.8 578.9,132.9 577.8,132.9 576.7,132.9 575.6,132.9 574.5,132.9 573.4,132.9 572.3,132.9 571.2,132.9 570.2,132.9 569.1,132.9 568.0,132.9 566.9,132.9 565.8,132.9 564.7,132.9 563.6,132.9 562.5,132.9 561.4,132.9 560.3,132.9 559.3,133.0 558.2,133.0 557.1,133.0 556.0,133.0 554.9,133.0 553.8,133.0 552.7,133.0 551.6,133.0 550.5,133.0 549.4,133.1 548.4,133.1 547.3,133.1 546.2,133.1 545.1,133.1 544.0,133.1 542.9,133.1 541.8,133.2 540.7,133.2 539.6,133.2 538.5,133.2 537.5,133.2 536.4,133.3 535.3,133.3 534.2,133.3 533.1,133.4 532.0,133.4 530.9,133.4 529.8,133.4 528.7,133.5 527.6,133.5 526.6,133.6 525.5,133.6 524.4,133.6 523.3,133.7 522.2,133.7 521.1,133.8 520.0,133.8 518.9,133.9 517.8,133.9 516.8,134.0 515.7,134.1 514.6,134.1 513.5,134.2 512.4,134.3 511.3,134.3 510.2,134.4 509.1,134.5 508.0,134.6 506.9,134.7 505.8,134.8 504.8,134.9 503.7,135.0 502.6,135.1 502.4,135.1 502.1,135.1 501.9,135.2 501.7,135.2 501.5,135.2 501.3,135.2 501.1,135.2 500.8,135.3 500.6,135.3 500.4,135.3 500.2,135.3 500.0,135.4 499.7,135.4 499.5,135.4 499.3,135.5 499.1,135.5 498.9,135.5 498.7,135.6 498.4,135.6 498.2,135.6 498.0,135.7 497.8,135.7 497.6,135.8 497.3,135.8 497.1,135.9 496.9,135.9 496.7,136.0 496.5,136.1 496.3,136.1 496.0,136.2 495.8,136.3 495.6,136.4 495.4,136.6 495.2,136.7 494.9,136.9 494.7,137.0 494.5,137.2 494.3,137.4 494.1,137.7 493.9,138.0 493.6,138.3 493.4,138.7 493.2,139.1 493.0,139.6 492.8,140.1 492.6,140.7 492.3,141.4 492.1,142.2 491.9,143.2 491.7,144.2 491.5,145.4 491.2,146.8 491.0,148.4 490.8,150.2 490.6,152.3 490.4,154.7 490.2,157.4" fill="#1f77b4" fill-opacity="0.12" stroke="none"/>
<polygon points="490.2,152.7 490.4,149.9 490.6,147.4 490.8,145.2 491.0,143.2 491.2,141.5 491.5,139.9 491.7,138.6 491.9,137.4 492.1,136.3 492.3,135.3 492.6,134.5 492.8,133.7 493.0,133.0 493.2,132.4 493.4,131.9 493.6,131.4 493.9,130.9 494.1,130.6 494.3,130.2 494.5,129.9 494.7,129.6 494.9,129.4 495.2,129.1 495.4,128.9 495.6,128.8 495.8,128.6 496.0,128.4 496.3,128.3 496.5,128.2 496.7,128.1 496.9,127.9 497.1,127.9 497.3,127.8 497.6,127.7 497.8,127.6 498.0,127.5 498.2,127.5 498.4,127.4 498.7,127.3 498.9,127.3 499.1,127.2 499.3,127.2 499.5,127.1 499.7,127.1 500.0,127.1 500.2,127.0 500.4,127.0 500.6,127.0 500.8,126.9 501.1,126.9 501.3,126.9 501.5,126.8 501.7,126.8 501.9,126.8 502.1,126.7 502.4,126.7 502.6,126.7 503.7,126.5 504.8,126.4 505.8,126.3 506.9,126.2 508.0,126.1 509.1,126.0 510.2,126.0 511.3,125.9 512.4,125.8 513.5,125.7 514.6,125.7 515.7,125.6 516.8,125.5 517.8,125.5 518.9,125.4 520.0,125.4 521.1,125.3 522.2,125.3 523.3,125.2 524.4,125.2 525.5,125.1 526.6,125.1 527.6,125.1 528.7,125.0 529.8,125.0 530.9,124.9 532.0,124.9 533.1,124.9 534.2,124.9 535.3,124.8 536.4,124.8 537.5,124.8 538.5,124.8 539.6,124.7 540.7,124.7 541.8,124.7 542.9,124.7 544.0,124.7 545.1,124.6 546.2,124.6 547.3,124.6 548.4,124.6 549.4,124.6 550.5,124.6 551.6,124.6 552.7,124.5 553.8,124.5 554.9,124.5 556.0,124.5 557.1,124.5 558.2,124.5 559.3,124.5 560.3,124.5 561.4,124.5 562.5,124.5 563.6,124.5 564.7,124.5 565.8,124.4 566.9,124.4 568.0,124.4 569.1,124.4 570.2,124.4 571.2,124.4 572.3,124.4 573.4,124.4 574.5,124.4 575.6,124.4 576.7,124.4 577.8,124.4 578.9,124.4 580.0,124.4 581.1,124.4 582.1,124.4 583.2,124.4 584.3,124.4 585.4,124.4 586.5,124.4 587.6,124.4 588.7,124.4 589.8,124.4 590.9,124.4 592.0,124.4 593.0,124.4 594.1,124.4 595.2,124.3 596.3,124.3 597.4,124.3 598.5,124.3 599.6,124.3 600.7,124.3 601.8,124.3 602.9,124.3 603.9,124.3 605.0,124.3 606.1,124.3 607.2,124.3 608.3,124.3 609.4,124.3 610.5,124.3 611.6,124.3 612.7,124.3 613.8,124.3 614.8,124.3 615.9,124.3 617.0,124.3 618.1,124.3 619.2,124.3 620.3,124.3 620.3,129.7 619.2,129.7 618.1,129.7 617.0,129.7 615.9,129.7 614.8,129.7 613.8,129.7 612.7,129.7 611.6,129.7 610.5,129.7 609.4,129.7 608.3,129.7 607.2,129.7 606.1,129.7 605.0,129.7 603.9,129.7 602.9,129.7 601.8,129.7 600.7,129.7 599.6,129.7 598.5,129.7 597.4,129.7 596.3,129.7 595.2,129.7 594.1,129.7 593.0,129.7 592.0,129.7 590.9,129.7 589.8,129.7 588.7,129.7 587.6,129.8 586.5,129.8 585.4,129.8 584.3,129.8 583.2,129.8 582.1,129.8 581.1,129.8 580.0,129.8 578.9,129.8 577.8,129.8 576.7,129.8 575.6,129.8 574.5,129.8 573.4,129.8 572.3,129.8 571.2,129.8 570.2,129.8 569.1,129.8 568.0,129.8 566.9,129.8 565.8,129.8 564.7,129.8 563.6,129.8 562.5,129.9 561.4,129.9 560.3,129.9 559.3,129.9 558.2,129.9 557.1,129.9 556.0,129.9 554.9,129.9 553.8,129.9 552.7,129.9 551.6,129.9 550.5,130.0 549.4,130.0 548.4,130.0 547.3,130.0 546.2,130.0 545.1,130.0 544.0,130.1 542.9,130.1 541.8,130.1 540.7,130.1 539.6,130.1 538.5,130.1 537.5,130.2 536.4,130.2 535.3,130.2 534.2,130.2 533.1,130.3 532.0,130.3 530.9,130.3 529.8,130.4 528.7,130.4 527.6,130.4 526.6,130.5 525.5,130.5 524.4,130.6 523.3,130.6 522.2,130.6 521.1,130.7 520.0,130.7 518.9,130.8 517.8,130.9 516.8,130.9 515.7,131.0 514.6,131.0 513.5,131.1 512.4,131.2 511.3,131.3 510.2,131.3 509.1,131.4 508.0,131.5 506.9,131.6 505.8,131.7 504.8,131.8 503.7,131.9 502.6,132.0 502.4,132.0 502.1,132.1 501.9,132.1 501.7,132.1 501.5,132.2 501.3,132.2 501.1,132.2 500.8,132.2 500.6,132.3 500.4,132.3 500.2,132.3 500.0,132.4 499.7,132.4 499.5,132.4 499.3,132.5 499.1,132.5 498.9,132.5 498.7,132.6 498.4,132.6 498.2,132.7 498.0,132.7 497.8,132.8 497.6,132.8 497.3,132.9 497.1,132.9 496.9,133.0 496.7,133.1 496.5,133.2 496.3,133.3 496.0,133.4 495.8,133.5 495.6,133.6 495.4,133.8 495.2,133.9 494.9,134.1 494.7,134.3 494.5,134.5 494.3,134.7 494.1,135.0 493.9,135.3 493.6,135.7 493.4,136.0 493.2,136.5 493.0,137.0 492.8,137.5 492.6,138.2 492.3,138.9 492.1,139.7 491.9,140.6 491.7,141.6 491.5,142.8 491.2,144.1 491.0,145.6 490.8,147.3 490.6,149.3 490.4,151.4 490.2,153.9" fill="#1f77b4" fill-opacity="0.12" stroke="none"/>
<polyline points="490.2,152.1 490.4,149.0 490.6,147.0 490.8,144.8 491.0,142.1 491.2,141.7 491.5,139.1 491.7,138.2 491.9,136.8 492.1,136.9 492.3,135.2 492.6,133.5 492.8,131.8 493.0,131.0 493.2,131.4 493.4,131.0 493.6,131.2 493.9,129.4 494.1,129.7 494.3,128.4 494.5,126.7 494.7,128.5 494.9,130.0 495.2,129.0 495.4,129.5 495.6,129.0 495.8,125.7 496.0,126.9 496.3,129.0 496.5,126.1 496.7,125.1 496.9,127.1 497.1,127.4 497.3,126.9 497.6,126.0 497.8,125.4 498.0,124.6 498.2,124.5 498.4,124.5 498.7,124.2 498.9,125.1 499.1,128.0 499.3,126.0 499.5,125.4 499.7,126.3 500.0,124.5 500.2,126.2 500.4,126.9 500.6,123.6 500.8,124.7 501.1,125.2 501.3,124.2 501.5,124.0 501.7,125.0 501.9,128.8 502.1,126.3 502.4,126.0 502.6,126.7 503.7,124.9 504.8,123.4 505.8,125.6 506.9,126.4 508.0,122.0 509.1,125.3 510.2,126.3 511.3,124.2 512.4,123.8 513.5,125.3 514.6,123.2 515.7,124.9 516.8,125.4 517.8,123.9 518.9,123.0 520.0,124.9 521.1,123.5 522.2,124.0 523.3,119.9 524.4,124.8 525.5,121.8 526.6,123.8 527.6,123.9 528.7,122.6 529.8,122.4 530.9,121.8 532.0,123.1 533.1,124.3 534.2,124.2 535.3,122.8 536.4,122.6 537.5,121.5 538.5,122.8 539.6,121.9 540.7,121.2 541.8,123.1 542.9,125.4 544.0,124.9 545.1,125.3 546.2,121.1 547.3,124.4 548.4,121.5 549.4,122.4 550.5,120.8 551.6,121.8 552.7,123.3 553.8,123.4 554.9,123.0 556.0,122.9 557.1,123.9 558.2,123.2 559.3,120.9 560.3,125.5 561.4,122.7 562.5,124.4 563.6,122.8 564.7,121.9 565.8,123.2 566.9,122.0 568.0,125.3 569.1,121.5 570.2,123.9 571.2,122.2 572.3,122.8 573.4,126.6 574.5,124.1 575.6,122.7 576.7,120.9 577.8,122.6 578.9,122.7 580.0,125.0 581.1,121.0 582.1,120.5 583.2,123.0 584.3,123.3 585.4,125.2 586.5,121.8 587.6,119.2 588.7,122.0 589.8,121.2 590.9,122.2 592.0,124.3 593.0,121.1 594.1,124.7 595.2,123.3 596.3,122.6 597.4,121.8 598.5,122.4 599.6,122.4 600.7,124.0 601.8,124.8 602.9,122.9 603.9,124.0 605.0,124.8 606.1,124.7 607.2,123.6 608.3,125.5 609.4,124.8 610.5,125.2 611.6,122.7 612.7,122.4 613.8,120.2 614.8,125.0 615.9,123.9 617.0,121.7 618.1,123.3 619.2,123.4 620.3,120.6" fill="none" stroke="#1f77b4" stroke-width="0.8" stroke-opacity="0.1" stroke-linejoin="round"/>
<polyline points="490.2,153.9 490.4,151.5 490.6,148.6 490.8,146.6 491.0,145.8 491.2,144.0 491.5,141.6 491.7,140.3 491.9,140.2 492.1,138.2 492.3,137.3 492.6,138.8 492.8,136.8 493.0,135.4 493.2,135.9 493.4,137.2 493.6,134.8 493.9,133.2 494.1,131.9 494.3,136.0 494.5,130.1 494.7,134.3 494.9,131.6 495.2,131.1 495.4,131.2 495.6,132.1 495.8,133.6 496.0,131.2 496.3,132.8 496.5,135.0 496.7,128.0 496.9,130.7 497.1,129.1 497.3,132.6 497.6,129.4 497.8,129.2 498.0,129.2 498.2,131.2 498.4,132.8 498.7,131.3 498.9,134.0 499.1,133.3 499.3,130.8 499.5,132.3 499.7,131.1 500.0,131.0 500.2,128.2 500.4,129.0 500.6,130.8 500.8,129.1 501.1,131.8 501.3,131.1 501.5,129.4 501.7,132.3 501.9,131.0 502.1,132.4 502.4,130.4 502.6,128.3 503.7,131.4 504.8,130.0 505.8,131.4 506.9,131.7 508.0,131.7 509.1,127.9 510.2,126.5 511.3,129.1 512.4,130.7 513.5,128.6 514.6,130.0 515.7,128.3 516.8,129.0 517.8,128.9 518.9,128.4 520.0,130.0 521.1,129.7 522.2,131.5 523.3,129.7 524.4,131.0 525.5,129.2 526.6,130.3 527.6,128.8 528.7,128.3 529.8,130.8 530.9,129.9 532.0,130.1 533.1,127.7 534.2,126.4 535.3,127.5 536.4,129.2 537.5,126.6 538.5,130.7 539.6,126.5 540.7,129.5 541.8,132.4 542.9,124.9 544.0,126.3 545.1,129.9 546.2,128.3 547.3,128.8 548.4,128.3 549.4,130.5 550.5,129.4 551.6,127.8 552.7,128.1 553.8,126.7 554.9,128.3 556.0,125.1 557.1,129.4 558.2,128.0 559.3,131.0 560.3,130.1 561.4,126.5 562.5,129.6 563.6,127.6 564.7,128.4 565.8,129.8 566.9,128.8 568.0,129.0 569.1,129.0 570.2,127.2 571.2,127.4 572.3,129.1 573.4,129.5 574.5,127.9 575.6,128.4 576.7,126.8 577.8,124.6 578.9,127.1 580.0,128.3 581.1,128.5 582.1,129.4 583.2,129.5 584.3,129.6 585.4,128.8 586.5,128.8 587.6,127.2 588.7,128.8 589.8,128.5 590.9,129.9 592.0,125.9 593.0,127.5 594.1,125.7 595.2,127.1 596.3,126.1 597.4,128.6 598.5,127.2 599.6,124.5 600.7,129.9 601.8,126.6 602.9,125.9 603.9,127.6 605.0,127.1 606.1,126.4 607.2,129.1 608.3,127.6 609.4,129.4 610.5,129.2 611.6,129.1 612.7,128.4 613.8,128.0 614.8,127.6 615.9,130.2 617.0,125.4 618.1,126.6 619.2,127.2 620.3,128.7" fill="none" stroke="#1f77b4" stroke-width="0.8" stroke-opacity="0.1" stroke-linejoin="round"/>
<polyline points="490.2,153.2 490.4,150.6 490.6,149.3 490.8,146.0 491.0,142.7 491.2,144.2 491.5,140.8 491.7,140.0 491.9,139.3 492.1,136.9 492.3,138.4 492.6,136.4 492.8,134.4 493.0,135.4 493.2,135.1 493.4,134.1 493.6,134.3 493.9,131.6 494.1,134.1 494.3,131.7 494.5,134.0 494.7,131.4 494.9,132.1 495.2,135.1 495.4,131.6 495.6,132.8 495.8,131.9 496.0,129.2 496.3,132.5 496.5,132.4 496.7,129.0 496.9,130.6 497.1,128.6 497.3,130.2 497.6,131.8 497.8,130.6 498.0,128.7 498.2,129.1 498.4,130.3 498.7,130.2 498.9,130.4 499.1,131.0 499.3,127.4 499.5,130.1 499.7,131.6 500.0,130.7 500.2,129.0 500.4,129.1 500.6,130.1 500.8,130.8 501.1,129.8 501.3,132.2 501.5,131.6 501.7,128.6 501.9,130.4 502.1,129.2 502.4,128.0 502.6,128.7 503.7,129.5 504.8,126.4 505.8,128.4 506.9,129.7 508.0,128.1 509.1,128.5 510.2,130.2 511.3,128.8 512.4,129.0 513.5,131.5 514.6,128.9 515.7,129.0 516.8,129.2 517.8,130.8 518.9,128.9 520.0,128.4 521.1,128.2 522.2,129.9 523.3,127.3 524.4,129.9 525.5,128.5 526.6,126.2 527.6,129.0 528.7,128.8 529.8,126.5 530.9,128.5 532.0,128.4 533.1,127.6 534.2,126.4 535.3,131.0 536.4,129.0 537.5,129.2 538.5,129.3 539.6,129.0 540.7,128.9 541.8,127.3 542.9,129.0 544.0,127.5 545.1,127.1 546.2,128.7 547.3,127.4 548.4,125.3 549.4,127.1 550.5,128.5 551.6,127.7 552.7,128.9 553.8,127.2 554.9,126.3 556.0,128.7 557.1,127.8 558.2,125.9 559.3,128.2 560.3,127.2 561.4,128.9 562.5,128.6 563.6,128.2 564.7,124.4 565.8,128.0 566.9,128.2 568.0,128.2 569.1,127.7 570.2,126.5 571.2,127.2 572.3,124.6 573.4,127.1 574.5,125.4 575.6,127.0 576.7,126.6 577.8,129.4 578.9,127.6 580.0,127.5 581.1,127.7 582.1,130.4 583.2,126.2 584.3,127.9 585.4,128.0 586.5,127.7 587.6,127.7 588.7,126.8 589.8,129.1 590.9,128.7 592.0,127.0 593.0,127.2 594.1,127.9 595.2,128.2 596.3,128.5 597.4,127.4 598.5,125.7 599.6,128.8 600.7,125.2 601.8,126.2 602.9,128.0 603.9,126.3 605.0,129.4 606.1,129.7 607.2,129.1 608.3,127.9 609.4,127.8 610.5,128.1 611.6,127.2 612.7,130.3 613.8,126.7 614.8,129.3 615.9,128.3 617.0,127.9 618.1,128.9 619.2,129.2 620.3,128.7" fill="none" stroke="#1f77b4" stroke-width="0.8" stroke-opacity="0.1" stroke-linejoin="round"/>
<polyline points="490.2,153.2 490.4,150.5 490.6,148.8 490.8,146.7 491.0,145.0 491.2,142.5 491.5,142.9 491.7,139.2 491.9,139.4 492.1,138.7 492.3,136.8 492.6,135.3 492.8,135.3 493.0,133.9 493.2,134.3 493.4,132.7 493.6,132.2 493.9,133.3 494.1,131.2 494.3,132.3 494.5,132.1 494.7,133.1 494.9,132.1 495.2,130.6 495.4,133.0 495.6,130.4 495.8,130.6 496.0,130.6 496.3,133.6 496.5,130.8 496.7,129.8 496.9,131.5 497.1,130.3 497.3,133.5 497.6,129.4 497.8,131.1 498.0,129.0 498.2,132.6 498.4,129.1 498.7,130.3 498.9,128.9 499.1,131.2 499.3,130.7 499.5,126.8 499.7,130.9 500.0,130.7 500.2,130.1 500.4,131.1 500.6,128.0 500.8,127.3 501.1,130.5 501.3,131.9 501.5,127.9 501.7,128.0 501.9,128.3 502.1,127.9 502.4,130.6 502.6,129.6 503.7,131.2 504.8,131.1 505.8,127.7 506.9,129.9 508.0,125.7 509.1,128.7 510.2,129.6 511.3,127.5 512.4,126.0 513.5,127.8 514.6,130.1 515.7,127.8 516.8,126.4 517.8,128.9 518.9,129.2 520.0,126.7 521.1,127.8 522.2,129.5 523.3,128.5 524.4,129.0 525.5,127.5 526.6,127.7 527.6,126.2 528.7,126.8 529.8,129.9 530.9,127.1 532.0,126.4 533.1,127.0 534.2,126.2 535.3,128.3 536.4,128.9 537.5,126.2 538.5,129.0 539.6,130.5 540.7,126.0 541.8,128.4 542.9,127.8 544.0,129.3 545.1,129.2 546.2,129.0 547.3,127.8 548.4,126.8 549.4,130.5 550.5,126.3 551.6,128.9 552.7,128.8 553.8,126.3 554.9,127.4 556.0,129.4 557.1,124.7 558.2,128.4 559.3,126.9 560.3,126.9 561.4,125.3 562.5,127.8 563.6,125.8 564.7,128.2 565.8,125.6 566.9,128.2 568.0,127.7 569.1,124.5 570.2,126.7 571.2,127.0 572.3,124.0 573.4,126.6 574.5,128.3 575.6,126.1 576.7,128.8 577.8,125.6 578.9,125.5 580.0,127.9 581.1,128.0 582.1,126.9 583.2,127.1 584.3,128.5 585.4,126.3 586.5,129.9 587.6,127.7 588.7,127.7 589.8,127.5 590.9,126.7 592.0,128.8 593.0,126.3 594.1,127.3 595.2,128.0 596.3,129.0 597.4,128.7 598.5,126.6 599.6,128.4 600.7,127.0 601.8,125.6 602.9,125.6 603.9,124.9 605.0,127.5 606.1,128.6 607.2,125.7 608.3,126.6 609.4,125.5 610.5,127.1 611.6,125.4 612.7,125.9 613.8,126.1 614.8,126.4 615.9,126.5 617.0,126.7 618.1,126.7 619.2,125.7 620.3,127.8" fill="none" stroke="#1f77b4" stroke-width="0.8" stroke-opacity="0.1" stroke-linejoin="round"/>
<polyline points="490.2,152.0 490.4,148.6 490.6,146.3 490.8,144.0 491.0,140.5 491.2,140.1 491.5,139.1 491.7,137.3 491.9,135.6 492.1,132.3 492.3,132.9 492.6,131.3 492.8,132.3 493.0,130.2 493.2,129.2 493.4,127.3 493.6,129.5 493.9,127.6 494.1,127.5 494.3,128.6 494.5,127.1 494.7,127.1 494.9,129.3 495.2,125.5 495.4,125.3 495.6,126.3 495.8,127.3 496.0,123.5 496.3,124.9 496.5,123.8 496.7,123.1 496.9,125.5 497.1,123.6 497.3,124.9 497.6,124.6 497.8,124.5 498.0,124.3 498.2,122.8 498.4,124.0 498.7,124.3 498.9,124.4 499.1,123.6 499.3,125.2 499.5,124.6 499.7,123.9 500.0,124.6 500.2,123.9 500.4,124.6 500.6,120.9 500.8,121.8 501.1,123.0 501.3,123.6 501.5,120.5 501.7,123.1 501.9,123.6 502.1,123.0 502.4,123.0 502.6,121.4 503.7,123.3 504.8,120.2 505.8,124.2 506.9,122.0 508.0,124.2 509.1,120.2 510.2,123.1 511.3,122.6 512.4,121.2 513.5,120.7 514.6,123.9 515.7,122.8 516.8,124.1 517.8,122.0 518.9,122.2 520.0,122.5 521.1,122.9 522.2,122.5 523.3,122.9 524.4,121.1 525.5,119.7 526.6,124.4 527.6,121.9 528.7,122.3 529.8,121.0 530.9,123.0 532.0,121.8 533.1,123.0 534.2,120.6 535.3,121.4 536.4,121.7 537.5,121.0 538.5,121.8 539.6,123.6 540.7,120.6 541.8,121.0 542.9,121.6 544.0,120.0 545.1,119.6 546.2,122.8 547.3,122.4 548.4,119.1 549.4,119.3 550.5,122.3 551.6,122.9 552.7,122.1 553.8,121.9 554.9,123.4 556.0,121.2 557.1,123.0 558.2,122.9 559.3,119.9 560.3,122.1 561.4,121.3 562.5,120.3 563.6,120.0 564.7,121.6 565.8,121.1 566.9,122.3 568.0,118.7 569.1,120.2 570.2,122.6 571.2,121.1 572.3,120.1 573.4,120.4 574.5,118.6 575.6,119.2 576.7,121.8 577.8,121.2 578.9,122.8 580.0,120.7 581.1,120.9 582.1,117.3 583.2,120.9 584.3,124.0 585.4,122.0 586.5,120.9 587.6,122.8 588.7,122.2 589.8,121.5 590.9,120.6 592.0,121.3 593.0,122.3 594.1,119.9 595.2,121.8 596.3,121.7 597.4,122.9 598.5,122.1 599.6,120.1 600.7,123.3 601.8,121.1 602.9,120.0 603.9,121.5 605.0,120.7 606.1,122.6 607.2,119.2 608.3,119.5 609.4,120.7 610.5,123.4 611.6,122.5 612.7,119.7 613.8,118.6 614.8,120.6 615.9,119.3 617.0,121.9 618.1,121.3 619.2,121.0 620.3,120.4" fill="none" stroke="#1f77b4" stroke-width="0.8" stroke-opacity="0.1" stroke-linejoin="round"/>
<polyline points="490.2,154.2 490.4,151.7 490.6,150.7 490.8,149.1 491.0,146.6 491.2,145.8 491.5,145.9 491.7,142.5 491.9,142.0 492.1,141.7 492.3,138.7 492.6,139.8 492.8,140.1 493.0,138.8 493.2,139.5 493.4,138.9 493.6,137.3 493.9,138.0 494.1,137.7 494.3,135.0 494.5,135.7 494.7,135.6 494.9,135.7 495.2,135.6 495.4,134.3 495.6,136.0 495.8,133.5 496.0,137.0 496.3,136.0 496.5,137.4 496.7,136.0 496.9,134.8 497.1,133.5 497.3,136.2 497.6,135.3 497.8,135.7 498.0,136.2 498.2,136.8 498.4,135.0 498.7,137.4 498.9,134.9 499.1,135.0 499.3,135.9 499.5,136.3 499.7,136.8 500.0,132.4 500.2,136.7 500.4,132.7 500.6,134.0 500.8,135.3 501.1,136.4 501.3,133.3 501.5,132.4 501.7,136.0 501.9,135.1 502.1,133.2 502.4,134.2 502.6,131.9 503.7,135.3 504.8,133.6 505.8,136.0 506.9,131.3 508.0,135.1 509.1,137.1 510.2,134.1 511.3,134.1 512.4,131.1 513.5,134.2 514.6,133.7 515.7,132.8 516.8,131.3 517.8,133.5 518.9,132.0 520.0,132.6 521.1,133.7 522.2,133.1 523.3,133.2 524.4,134.4 525.5,131.4 526.6,135.0 527.6,131.4 528.7,131.7 529.8,133.1 530.9,134.0 532.0,133.2 533.1,132.2 534.2,131.8 535.3,132.4 536.4,131.4 537.5,133.5 538.5,132.4 539.6,134.9 540.7,131.6 541.8,132.5 542.9,133.2 544.0,131.0 545.1,131.7 546.2,136.5 547.3,132.5 548.4,134.6 549.4,131.1 550.5,129.1 551.6,133.3 552.7,132.4 553.8,132.9 554.9,132.0 556.0,131.6 557.1,130.7 558.2,133.9 559.3,130.3 560.3,133.8 561.4,132.1 562.5,130.8 563.6,131.5 564.7,133.7 565.8,133.4 566.9,133.1 568.0,132.5 569.1,130.8 570.2,134.2 571.2,131.8 572.3,131.6 573.4,131.6 574.5,131.7 575.6,130.3 576.7,131.7 577.8,131.2 578.9,131.6 580.0,129.9 581.1,135.0 582.1,130.6 583.2,132.7 584.3,132.7 585.4,133.7 586.5,134.9 587.6,132.9 588.7,133.3 589.8,131.7 590.9,134.4 592.0,130.4 593.0,132.0 594.1,132.7 595.2,133.3 596.3,133.4 597.4,133.9 598.5,133.1 599.6,132.3 600.7,132.6 601.8,134.3 602.9,132.7 603.9,133.6 605.0,132.1 606.1,129.7 607.2,131.5 608.3,132.8 609.4,134.6 610.5,134.3 611.6,134.7 612.7,131.3 613.8,133.4 614.8,132.2 615.9,133.2 617.0,132.2 618.1,130.4 619.2,133.3 620.3,132.8" fill="none" stroke="#1f77b4" stroke-width="0.8" stroke-opacity="0.1" stroke-linejoin="round"/>
<polyline points="490.2,153.7 490.4,151.9 490.6,149.8 490.8,148.1 491.0,146.5 491.2,143.8 491.5,141.0 491.7,142.5 491.9,139.9 492.1,139.5 492.3,139.9 492.6,138.5 492.8,137.8 493.0,137.8 493.2,134.5 493.4,138.2 493.6,135.3 493.9,135.0 494.1,135.8 494.3,134.6 494.5,133.5 494.7,134.2 494.9,133.7 495.2,133.1 495.4,136.4 495.6,131.9 495.8,130.7 496.0,132.2 496.3,132.1 496.5,135.1 496.7,133.3 496.9,134.2 497.1,133.8 497.3,131.7 497.6,134.0 497.8,133.0 498.0,135.3 498.2,133.0 498.4,132.6 498.7,133.6 498.9,133.6 499.1,130.0 499.3,134.2 499.5,133.9 499.7,133.6 500.0,130.8 500.2,129.6 500.4,131.9 500.6,133.3 500.8,132.9 501.1,130.8 501.3,133.5 501.5,130.3 501.7,130.3 501.9,132.1 502.1,131.3 502.4,131.1 502.6,130.0 503.7,133.5 504.8,130.3 505.8,132.3 506.9,132.8 508.0,131.5 509.1,131.8 510.2,132.8 511.3,133.6 512.4,132.6 513.5,129.2 514.6,128.4 515.7,130.2 516.8,129.4 517.8,131.7 518.9,131.0 520.0,130.5 521.1,132.3 522.2,132.1 523.3,130.6 524.4,131.1 525.5,132.1 526.6,130.0 527.6,130.9 528.7,129.1 529.8,130.5 530.9,130.9 532.0,130.2 533.1,130.6 534.2,131.3 535.3,130.9 536.4,129.3 537.5,129.4 538.5,128.5 539.6,132.6 540.7,130.8 541.8,130.8 542.9,129.9 544.0,130.8 545.1,130.8 546.2,129.0 547.3,129.9 548.4,131.7 549.4,128.2 550.5,128.7 551.6,130.8 552.7,128.9 553.8,131.0 554.9,128.5 556.0,130.3 557.1,131.1 558.2,130.5 559.3,131.0 560.3,129.7 561.4,129.7 562.5,129.9 563.6,130.7 564.7,135.0 565.8,129.8 566.9,132.5 568.0,129.6 569.1,128.3 570.2,129.5 571.2,130.4 572.3,130.1 573.4,130.1 574.5,130.6 575.6,130.7 576.7,131.2 577.8,128.2 578.9,129.9 580.0,128.5 581.1,130.2 582.1,129.8 583.2,130.1 584.3,129.2 585.4,128.7 586.5,129.5 587.6,130.8 588.7,130.9 589.8,127.5 590.9,130.2 592.0,130.2 593.0,127.8 594.1,128.3 595.2,129.1 596.3,130.4 597.4,126.6 598.5,129.3 599.6,129.1 600.7,130.1 601.8,131.8 602.9,131.7 603.9,129.3 605.0,129.3 606.1,130.2 607.2,131.4 608.3,131.8 609.4,130.3 610.5,131.8 611.6,128.6 612.7,128.2 613.8,125.9 614.8,128.6 615.9,130.6 617.0,131.0 618.1,134.6 619.2,130.6 620.3,130.1" fill="none" stroke="#1f77b4" stroke-width="0.8" stroke-opacity="0.1" stroke-linejoin="round"/>
<polyline points="490.2,152.4 490.4,149.5 490.6,147.1 490.8,144.6 491.0,142.1 491.2,141.9 491.5,139.9 491.7,139.3 491.9,135.6 492.1,134.7 492.3,134.2 492.6,135.1 492.8,133.0 493.0,132.8 493.2,131.8 493.4,131.6 493.6,130.3 493.9,130.9 494.1,129.0 494.3,129.4 494.5,129.7 494.7,129.2 494.9,129.3 495.2,127.6 495.4,128.7 495.6,127.8 495.8,128.5 496.0,129.7 496.3,126.5 496.5,128.9 496.7,126.6 496.9,126.8 497.1,129.4 497.3,128.4 497.6,127.7 497.8,128.1 498.0,128.5 498.2,125.8 498.4,127.1 498.7,126.2 498.9,127.2 499.1,126.2 499.3,127.6 499.5,126.5 499.7,125.7 500.0,126.4 500.2,127.0 500.4,127.8 500.6,126.1 500.8,125.8 501.1,126.6 501.3,127.3 501.5,125.4 501.7,122.7 501.9,126.5 502.1,125.6 502.4,125.5 502.6,129.6 503.7,125.7 504.8,126.8 505.8,123.8 506.9,125.9 508.0,126.5 509.1,125.7 510.2,125.1 511.3,126.0 512.4,125.2 513.5,126.9 514.6,125.3 515.7,123.9 516.8,122.1 517.8,123.8 518.9,124.4 520.0,123.1 521.1,123.2 522.2,122.3 523.3,123.1 524.4,124.7 525.5,124.1 526.6,124.2 527.6,124.0 528.7,124.1 529.8,125.4 530.9,127.2 532.0,125.2 533.1,127.0 534.2,124.1 535.3,124.2 536.4,126.5 537.5,123.2 538.5,122.9 539.6,124.0 540.7,121.8 541.8,121.4 542.9,125.7 544.0,122.6 545.1,123.4 546.2,123.4 547.3,122.7 548.4,124.9 549.4,124.7 550.5,125.1 551.6,124.9 552.7,124.0 553.8,125.9 554.9,125.3 556.0,123.1 557.1,123.9 558.2,123.3 559.3,126.4 560.3,124.9 561.4,124.6 562.5,123.8 563.6,124.6 564.7,122.5 565.8,123.9 566.9,123.8 568.0,123.8 569.1,122.8 570.2,124.4 571.2,122.2 572.3,123.1 573.4,123.5 574.5,123.7 575.6,123.0 576.7,122.3 577.8,122.4 578.9,123.2 580.0,122.5 581.1,123.6 582.1,122.0 583.2,123.8 584.3,126.6 585.4,121.9 586.5,123.6 587.6,125.3 588.7,124.0 589.8,124.9 590.9,120.8 592.0,123.0 593.0,125.9 594.1,122.9 595.2,124.2 596.3,121.0 597.4,125.1 598.5,126.8 599.6,123.6 600.7,124.2 601.8,124.3 602.9,126.6 603.9,123.1 605.0,121.4 606.1,126.3 607.2,122.1 608.3,124.5 609.4,120.4 610.5,123.1 611.6,123.9 612.7,122.1 613.8,122.9 614.8,124.5 615.9,122.7 617.0,124.4 618.1,126.1 619.2,120.9 620.3,124.2" fill="none" stroke="#1f77b4" stroke-width="0.8" stroke-opacity="0.1" stroke-linejoin="round"/>
<polyline points="489.5,138.2 490.2,153.3 490.4,150.7 490.6,148.3 490.8,146.3 491.0,144.4 491.2,142.8 491.5,141.4 491.7,140.1 491.9,139.0 492.1,138.0 492.3,137.1 492.6,136.3 492.8,135.6 493.0,135.0 493.2,134.4 493.4,134.0 493.6,133.5 493.9,133.1 494.1,132.8 494.3,132.5 494.5,132.2 494.7,131.9 494.9,131.7 495.2,131.5 495.4,131.3 495.6,131.2 495.8,131.0 496.0,130.9 496.3,130.8 496.5,130.7 496.7,130.6 496.9,130.5 497.1,130.4 497.3,130.3 497.6,130.2 497.8,130.2 498.0,130.1 498.2,130.1 498.4,130.0 498.7,130.0 498.9,129.9 499.1,129.9 499.3,129.8 499.5,129.8 499.7,129.7 500.0,129.7 500.2,129.7 500.4,129.6 500.6,129.6 500.8,129.6 501.1,129.5 501.3,129.5 501.5,129.5 501.7,129.5 501.9,129.4 502.1,129.4 502.4,129.4 502.6,129.4 503.7,129.2 504.8,129.1 505.8,129.0 506.9,128.9 508.0,128.8 509.1,128.7 510.2,128.6 511.3,128.6 512.4,128.5 513.5,128.4 514.6,128.3 515.7,128.3 516.8,128.2 517.8,128.2 518.9,128.1 520.0,128.1 521.1,128.0 522.2,128.0 523.3,127.9 524.4,127.9 525.5,127.8 526.6,127.8 527.6,127.7 528.7,127.7 529.8,127.7 530.9,127.6 532.0,127.6 533.1,127.6 534.2,127.6 535.3,127.5 536.4,127.5 537.5,127.5 538.5,127.5 539.6,127.4 540.7,127.4 541.8,127.4 542.9,127.4 544.0,127.4 545.1,127.3 546.2,127.3 547.3,127.3 548.4,127.3 549.4,127.3 550.5,127.3 551.6,127.3 552.7,127.2 553.8,127.2 554.9,127.2 556.0,127.2 557.1,127.2 558.2,127.2 559.3,127.2 560.3,127.2 561.4,127.2 562.5,127.2 563.6,127.2 564.7,127.1 565.8,127.1 566.9,127.1 568.0,127.1 569.1,127.1 570.2,127.1 571.2,127.1 572.3,127.1 573.4,127.1 574.5,127.1 575.6,127.1 576.7,127.1 577.8,127.1 578.9,127.1 580.0,127.1 581.1,127.1 582.1,127.1 583.2,127.1 584.3,127.1 585.4,127.1 586.5,127.1 587.6,127.1 588.7,127.1 589.8,127.1 590.9,127.1 592.0,127.0 593.0,127.0 594.1,127.0 595.2,127.0 596.3,127.0 597.4,127.0 598.5,127.0 599.6,127.0 600.7,127.0 601.8,127.0 602.9,127.0 603.9,127.0 605.0,127.0 606.1,127.0 607.2,127.0 608.3,127.0 609.4,127.0 610.5,127.0 611.6,127.0 612.7,127.0 613.8,127.0 614.8,127.0 615.9,127.0 617.0,127.0 618.1,127.0 619.2,127.0 620.3,127.0" fill="none" stroke="#1f77b4" stroke-width="3.3" stroke-opacity="1.0" stroke-linejoin="round"/>
<polygon points="489.5,138.2 489.7,121.2 489.9,108.0 490.2,97.7 490.4,89.6 490.6,83.2 490.8,78.2 491.0,74.1 491.2,70.9 491.5,68.3 491.7,66.2 491.9,64.4 492.1,63.0 492.3,61.7 492.6,60.7 492.8,59.7 493.0,58.9 493.2,58.2 493.4,57.6 493.6,57.0 493.9,56.4 494.1,55.9 494.3,55.5 494.5,55.0 494.7,54.6 494.9,54.2 495.2,53.9 495.4,53.5 495.6,53.2 495.8,52.8 496.0,52.5 496.3,52.2 496.5,51.9 496.7,51.6 496.9,51.4 497.1,51.1 497.3,50.8 497.6,50.6 497.8,50.3 498.0,50.1 498.2,49.9 498.4,49.6 498.7,49.4 498.9,49.2 499.1,49.0 499.3,48.8 499.5,48.6 499.7,48.4 500.0,48.2 500.2,48.1 500.4,47.9 500.6,47.7 500.8,47.6 501.1,47.4 501.3,47.2 501.5,47.1 501.7,46.9 501.9,46.8 502.1,46.7 502.4,46.5 502.6,46.4 503.7,45.8 504.8,45.2 505.8,44.8 506.9,44.3 508.0,44.0 509.1,43.6 510.2,43.4 511.3,43.1 512.4,42.9 513.5,42.7 514.6,42.5 515.7,42.4 516.8,42.2 517.8,42.1 518.9,42.0 520.0,41.9 521.1,41.8 522.2,41.8 523.3,41.7 524.4,41.6 525.5,41.6 526.6,41.5 527.6,41.5 528.7,41.5 529.8,41.4 530.9,41.4 532.0,41.4 533.1,41.4 534.2,41.3 535.3,41.3 536.4,41.3 537.5,41.3 538.5,41.3 539.6,41.3 540.7,41.3 541.8,41.3 542.9,41.3 544.0,41.3 545.1,41.2 546.2,41.2 547.3,41.2 548.4,41.2 549.4,41.2 550.5,41.2 551.6,41.2 552.7,41.2 553.8,41.2 554.9,41.2 556.0,41.2 557.1,41.2 558.2,41.2 559.3,41.2 560.3,41.2 561.4,41.2 562.5,41.2 563.6,41.2 564.7,41.2 565.8,41.2 566.9,41.2 568.0,41.2 569.1,41.2 570.2,41.2 571.2,41.2 572.3,41.2 573.4,41.2 574.5,41.2 575.6,41.2 576.7,41.2 577.8,41.2 578.9,41.2 580.0,41.2 581.1,41.2 582.1,41.2 583.2,41.2 584.3,41.2 585.4,41.2 586.5,41.2 587.6,41.2 588.7,41.2 589.8,41.2 590.9,41.2 592.0,41.2 593.0,41.2 594.1,41.2 595.2,41.2 596.3,41.2 597.4,41.2 598.5,41.2 599.6,41.2 600.7,41.2 601.8,41.2 602.9,41.2 603.9,41.2 605.0,41.2 606.1,41.2 607.2,41.2 608.3,41.2 609.4,41.2 610.5,41.2 611.6,41.2 612.7,41.2 613.8,41.2 614.8,41.2 615.9,41.2 617.0,41.2 618.1,41.2 619.2,41.2 620.3,41.2 620.3,50.4 619.2,50.4 618.1,50.4 617.0,50.4 615.9,50.4 614.8,50.4 613.8,50.4 612.7,50.4 611.6,50.4 610.5,50.4 609.4,50.4 608.3,50.4 607.2,50.4 606.1,50.4 605.0,50.4 603.9,50.4 602.9,50.4 601.8,50.4 600.7,50.4 599.6,50.4 598.5,50.4 597.4,50.4 596.3,50.4 595.2,50.4 594.1,50.4 593.0,50.4 592.0,50.4 590.9,50.4 589.8,50.4 588.7,50.4 587.6,50.4 586.5,50.4 585.4,50.4 584.3,50.4 583.2,50.4 582.1,50.4 581.1,50.4 580.0,50.4 578.9,50.4 577.8,50.4 576.7,50.4 575.6,50.4 574.5,50.4 573.4,50.4 572.3,50.4 571.2,50.4 570.2,50.4 569.1,50.4 568.0,50.4 566.9,50.4 565.8,50.4 564.7,50.4 563.6,50.4 562.5,50.4 561.4,50.5 560.3,50.5 559.3,50.5 558.2,50.5 557.1,50.5 556.0,50.5 554.9,50.5 553.8,50.5 552.7,50.5 551.6,50.5 550.5,50.5 549.4,50.5 548.4,50.5 547.3,50.5 546.2,50.5 545.1,50.5 544.0,50.5 542.9,50.5 541.8,50.5 540.7,50.5 539.6,50.5 538.5,50.5 537.5,50.5 536.4,50.6 535.3,50.6 534.2,50.6 533.1,50.6 532.0,50.6 530.9,50.6 529.8,50.7 528.7,50.7 527.6,50.7 526.6,50.8 525.5,50.8 524.4,50.9 523.3,50.9 522.2,51.0 521.1,51.1 520.0,51.1 518.9,51.2 517.8,51.3 516.8,51.5 515.7,51.6 514.6,51.7 513.5,51.9 512.4,52.1 511.3,52.3 510.2,52.6 509.1,52.9 508.0,53.2 506.9,53.6 505.8,54.0 504.8,54.4 503.7,55.0 502.6,55.6 502.4,55.7 502.1,55.8 501.9,56.0 501.7,56.1 501.5,56.2 501.3,56.4 501.1,56.5 500.8,56.7 500.6,56.8 500.4,57.0 500.2,57.1 500.0,57.3 499.7,57.5 499.5,57.7 499.3,57.8 499.1,58.0 498.9,58.2 498.7,58.4 498.4,58.6 498.2,58.8 498.0,59.0 497.8,59.2 497.6,59.4 497.3,59.6 497.1,59.8 496.9,60.0 496.7,60.3 496.5,60.5 496.3,60.8 496.0,61.0 495.8,61.2 495.6,61.5 495.4,61.8 495.2,62.0 494.9,62.3 494.7,62.6 494.5,62.9 494.3,63.2 494.1,63.6 493.9,63.9 493.6,64.3 493.4,64.7 493.2,65.2 493.0,65.7 492.8,66.3 492.6,67.0 492.3,67.8 492.1,68.8 491.9,70.0 491.7,71.4 491.5,73.2 491.2,75.4 491.0,78.2 490.8,81.8 490.6,86.4 490.4,92.2 490.2,99.7 489.9,109.4 489.7,121.9 489.5,138.2" fill="#e24a33" fill-opacity="0.18" stroke="none"/>
<polygon points="489.5,138.2 489.7,121.4 489.9,108.3 490.2,98.1 490.4,90.1 490.6,83.9 490.8,78.9 491.0,75.0 491.2,71.9 491.5,69.3 491.7,67.3 491.9,65.6 492.1,64.2 492.3,63.0 492.6,62.0 492.8,61.1 493.0,60.3 493.2,59.7 493.4,59.1 493.6,58.5 493.9,58.0 494.1,57.5 494.3,57.1 494.5,56.7 494.7,56.3 494.9,55.9 495.2,55.6 495.4,55.2 495.6,54.9 495.8,54.6 496.0,54.3 496.3,54.0 496.5,53.7 496.7,53.4 496.9,53.2 497.1,52.9 497.3,52.7 497.6,52.4 497.8,52.2 498.0,51.9 498.2,51.7 498.4,51.5 498.7,51.3 498.9,51.1 499.1,50.9 499.3,50.7 499.5,50.5 499.7,50.3 500.0,50.1 500.2,50.0 500.4,49.8 500.6,49.6 500.8,49.5 501.1,49.3 501.3,49.1 501.5,49.0 501.7,48.9 501.9,48.7 502.1,48.6 502.4,48.4 502.6,48.3 503.7,47.7 504.8,47.2 505.8,46.7 506.9,46.3 508.0,45.9 509.1,45.6 510.2,45.3 511.3,45.0 512.4,44.8 513.5,44.6 514.6,44.4 515.7,44.3 516.8,44.1 517.8,44.0 518.9,43.9 520.0,43.8 521.1,43.7 522.2,43.7 523.3,43.6 524.4,43.6 525.5,43.5 526.6,43.5 527.6,43.4 528.7,43.4 529.8,43.4 530.9,43.3 532.0,43.3 533.1,43.3 534.2,43.3 535.3,43.3 536.4,43.2 537.5,43.2 538.5,43.2 539.6,43.2 540.7,43.2 541.8,43.2 542.9,43.2 544.0,43.2 545.1,43.2 546.2,43.2 547.3,43.2 548.4,43.2 549.4,43.2 550.5,43.2 551.6,43.2 552.7,43.2 553.8,43.1 554.9,43.1 556.0,43.1 557.1,43.1 558.2,43.1 559.3,43.1 560.3,43.1 561.4,43.1 562.5,43.1 563.6,43.1 564.7,43.1 565.8,43.1 566.9,43.1 568.0,43.1 569.1,43.1 570.2,43.1 571.2,43.1 572.3,43.1 573.4,43.1 574.5,43.1 575.6,43.1 576.7,43.1 577.8,43.1 578.9,43.1 580.0,43.1 581.1,43.1 582.1,43.1 583.2,43.1 584.3,43.1 585.4,43.1 586.5,43.1 587.6,43.1 588.7,43.1 589.8,43.1 590.9,43.1 592.0,43.1 593.0,43.1 594.1,43.1 595.2,43.1 596.3,43.1 597.4,43.1 598.5,43.1 599.6,43.1 600.7,43.1 601.8,43.1 602.9,43.1 603.9,43.1 605.0,43.1 606.1,43.1 607.2,43.1 608.3,43.1 609.4,43.1 610.5,43.1 611.6,43.1 612.7,43.1 613.8,43.1 614.8,43.1 615.9,43.1 617.0,43.1 618.1,43.1 619.2,43.1 620.3,43.1 620.3,48.5 619.2,48.5 618.1,48.5 617.0,48.5 615.9,48.5 614.8,48.5 613.8,48.5 612.7,48.5 611.6,48.5 610.5,48.5 609.4,48.5 608.3,48.5 607.2,48.5 606.1,48.5 605.0,48.5 603.9,48.5 602.9,48.5 601.8,48.5 600.7,48.5 599.6,48.5 598.5,48.5 597.4,48.5 596.3,48.5 595.2,48.5 594.1,48.5 593.0,48.5 592.0,48.5 590.9,48.5 589.8,48.5 588.7,48.5 587.6,48.5 586.5,48.5 585.4,48.5 584.3,48.5 583.2,48.5 582.1,48.5 581.1,48.5 580.0,48.5 578.9,48.5 577.8,48.5 576.7,48.5 575.6,48.5 574.5,48.5 573.4,48.5 572.3,48.5 571.2,48.5 570.2,48.5 569.1,48.5 568.0,48.5 566.9,48.5 565.8,48.5 564.7,48.5 563.6,48.5 562.5,48.5 561.4,48.5 560.3,48.5 559.3,48.5 558.2,48.5 557.1,48.5 556.0,48.5 554.9,48.5 553.8,48.5 552.7,48.5 551.6,48.5 550.5,48.5 549.4,48.5 548.4,48.5 547.3,48.6 546.2,48.6 545.1,48.6 544.0,48.6 542.9,48.6 541.8,48.6 540.7,48.6 539.6,48.6 538.5,48.6 537.5,48.6 536.4,48.6 535.3,48.6 534.2,48.7 533.1,48.7 532.0,48.7 530.9,48.7 529.8,48.7 528.7,48.8 527.6,48.8 526.6,48.9 525.5,48.9 524.4,48.9 523.3,49.0 522.2,49.1 521.1,49.1 520.0,49.2 518.9,49.3 517.8,49.4 516.8,49.5 515.7,49.7 514.6,49.8 513.5,50.0 512.4,50.2 511.3,50.4 510.2,50.7 509.1,51.0 508.0,51.3 506.9,51.6 505.8,52.1 504.8,52.5 503.7,53.1 502.6,53.7 502.4,53.8 502.1,53.9 501.9,54.0 501.7,54.2 501.5,54.3 501.3,54.5 501.1,54.6 500.8,54.8 500.6,54.9 500.4,55.1 500.2,55.3 500.0,55.4 499.7,55.6 499.5,55.8 499.3,56.0 499.1,56.1 498.9,56.3 498.7,56.5 498.4,56.7 498.2,56.9 498.0,57.1 497.8,57.3 497.6,57.6 497.3,57.8 497.1,58.0 496.9,58.2 496.7,58.5 496.5,58.7 496.3,59.0 496.0,59.2 495.8,59.5 495.6,59.8 495.4,60.0 495.2,60.3 494.9,60.6 494.7,61.0 494.5,61.3 494.3,61.6 494.1,62.0 493.9,62.4 493.6,62.8 493.4,63.2 493.2,63.7 493.0,64.3 492.8,65.0 492.6,65.7 492.3,66.6 492.1,67.6 491.9,68.8 491.7,70.3 491.5,72.2 491.2,74.5 491.0,77.4 490.8,81.0 490.6,85.7 490.4,91.7 490.2,99.3 489.9,109.1 489.7,121.8 489.5,138.2" fill="#e24a33" fill-opacity="0.25" stroke="none"/>
<polyline points="489.5,138.2 489.7,121.7 489.9,109.0 490.2,98.9 490.4,91.2 490.6,85.0 490.8,79.8 491.0,76.7 491.2,73.3 491.5,70.8 491.7,69.8 491.9,67.5 492.1,66.9 492.3,64.6 492.6,64.0 492.8,63.5 493.0,63.8 493.2,62.2 493.4,62.3 493.6,60.7 493.9,60.8 494.1,61.0 494.3,59.2 494.5,59.0 494.7,59.7 494.9,58.0 495.2,58.8 495.4,58.5 495.6,57.9 495.8,58.3 496.0,57.8 496.3,57.3 496.5,55.6 496.7,55.3 496.9,56.6 497.1,54.7 497.3,55.9 497.6,55.3 497.8,54.7 498.0,55.0 498.2,52.8 498.4,54.6 498.7,55.7 498.9,53.2 499.1,54.6 499.3,54.3 499.5,56.5 499.7,52.7 500.0,52.7 500.2,52.6 500.4,52.2 500.6,51.4 500.8,52.9 501.1,51.8 501.3,53.2 501.5,52.7 501.7,51.2 501.9,51.7 502.1,53.2 502.4,51.5 502.6,51.8 503.7,51.8 504.8,50.1 505.8,50.4 506.9,51.1 508.0,50.3 509.1,47.3 510.2,50.1 511.3,48.2 512.4,47.6 513.5,47.4 514.6,49.0 515.7,48.0 516.8,47.4 517.8,46.7 518.9,47.9 520.0,48.3 521.1,46.2 522.2,46.1 523.3,46.7 524.4,47.5 525.5,46.5 526.6,46.8 527.6,46.0 528.7,47.9 529.8,46.6 530.9,46.9 532.0,47.7 533.1,46.5 534.2,46.6 535.3,47.0 536.4,46.3 537.5,47.9 538.5,46.7 539.6,46.2 540.7,46.3 541.8,45.6 542.9,47.7 544.0,48.0 545.1,46.3 546.2,46.1 547.3,44.6 548.4,46.0 549.4,47.4 550.5,45.8 551.6,47.3 552.7,47.9 553.8,44.1 554.9,46.2 556.0,45.9 557.1,46.0 558.2,44.9 559.3,46.3 560.3,45.4 561.4,47.5 562.5,47.8 563.6,45.2 564.7,45.2 565.8,46.1 566.9,46.3 568.0,46.4 569.1,47.2 570.2,45.1 571.2,45.9 572.3,46.1 573.4,46.2 574.5,45.6 575.6,46.1 576.7,45.8 577.8,47.6 578.9,46.1 580.0,44.5 581.1,47.0 582.1,46.6 583.2,45.7 584.3,45.6 585.4,46.0 586.5,48.0 587.6,46.1 588.7,47.6 589.8,47.3 590.9,46.0 592.0,46.8 593.0,45.8 594.1,43.6 595.2,45.8 596.3,45.9 597.4,47.4 598.5,47.1 599.6,47.5 600.7,47.0 601.8,47.5 602.9,47.1 603.9,46.7 605.0,47.5 606.1,47.8 607.2,47.8 608.3,46.1 609.4,46.5 610.5,45.6 611.6,45.6 612.7,46.8 613.8,45.9 614.8,47.9 615.9,44.4 617.0,45.4 618.1,46.7 619.2,47.6 620.3,46.2" fill="none" stroke="#e24a33" stroke-width="0.8" stroke-opacity="0.15" stroke-linejoin="round"/>
<polyline points="489.5,138.2 489.7,121.7 489.9,109.0 490.2,99.3 490.4,91.2 490.6,85.8 490.8,80.7 491.0,77.3 491.2,74.6 491.5,71.7 491.7,70.5 491.9,67.4 492.1,67.6 492.3,65.0 492.6,66.0 492.8,64.2 493.0,64.7 493.2,64.3 493.4,62.7 493.6,61.9 493.9,62.9 494.1,60.6 494.3,61.8 494.5,60.7 494.7,60.2 494.9,59.7 495.2,61.3 495.4,58.2 495.6,58.8 495.8,59.4 496.0,59.6 496.3,59.9 496.5,59.4 496.7,57.5 496.9,58.0 497.1,58.5 497.3,57.7 497.6,55.7 497.8,57.1 498.0,57.1 498.2,55.2 498.4,55.8 498.7,56.0 498.9,56.4 499.1,57.0 499.3,56.5 499.5,55.7 499.7,55.3 500.0,54.6 500.2,54.2 500.4,54.4 500.6,54.2 500.8,55.2 501.1,56.1 501.3,54.4 501.5,54.7 501.7,54.3 501.9,53.8 502.1,54.5 502.4,54.3 502.6,53.2 503.7,52.4 504.8,52.6 505.8,51.1 506.9,51.3 508.0,51.7 509.1,50.4 510.2,48.4 511.3,50.5 512.4,48.6 513.5,48.2 514.6,47.9 515.7,49.9 516.8,47.1 517.8,48.8 518.9,49.0 520.0,48.9 521.1,48.0 522.2,48.5 523.3,48.6 524.4,47.2 525.5,49.0 526.6,49.3 527.6,47.5 528.7,47.6 529.8,47.2 530.9,49.2 532.0,47.2 533.1,47.7 534.2,46.5 535.3,49.3 536.4,47.9 537.5,48.3 538.5,49.5 539.6,48.7 540.7,47.0 541.8,48.5 542.9,48.7 544.0,47.2 545.1,47.1 546.2,47.1 547.3,48.7 548.4,48.1 549.4,47.1 550.5,48.6 551.6,48.7 552.7,47.2 553.8,46.6 554.9,49.1 556.0,50.4 557.1,49.3 558.2,48.9 559.3,48.1 560.3,47.4 561.4,48.1 562.5,48.6 563.6,47.8 564.7,48.9 565.8,48.0 566.9,48.6 568.0,45.5 569.1,47.2 570.2,48.8 571.2,48.9 572.3,48.4 573.4,49.5 574.5,48.7 575.6,48.7 576.7,47.2 577.8,48.4 578.9,48.7 580.0,49.2 581.1,49.1 582.1,48.0 583.2,48.2 584.3,46.9 585.4,48.6 586.5,47.0 587.6,47.7 588.7,48.0 589.8,49.8 590.9,49.2 592.0,47.3 593.0,46.7 594.1,47.8 595.2,47.3 596.3,48.4 597.4,48.3 598.5,48.6 599.6,47.1 600.7,47.7 601.8,48.2 602.9,48.3 603.9,47.5 605.0,47.7 606.1,48.8 607.2,46.4 608.3,47.7 609.4,48.0 610.5,46.6 611.6,47.0 612.7,48.1 613.8,47.5 614.8,49.0 615.9,48.6 617.0,50.1 618.1,46.9 619.2,49.7 620.3,47.4" fill="none" stroke="#e24a33" stroke-width="0.8" stroke-opacity="0.15" stroke-linejoin="round"/>
<polyline points="489.5,138.2 489.7,121.7 489.9,108.8 490.2,98.8 490.4,90.7 490.6,85.0 490.8,80.0 491.0,76.9 491.2,73.3 491.5,71.2 491.7,69.6 491.9,67.8 492.1,66.5 492.3,65.3 492.6,64.2 492.8,64.0 493.0,63.5 493.2,61.9 493.4,63.1 493.6,61.9 493.9,59.8 494.1,62.6 494.3,60.7 494.5,59.3 494.7,60.8 494.9,57.0 495.2,60.9 495.4,57.3 495.6,56.9 495.8,57.1 496.0,57.8 496.3,57.1 496.5,57.9 496.7,56.2 496.9,57.6 497.1,56.6 497.3,55.3 497.6,56.9 497.8,56.0 498.0,55.3 498.2,56.4 498.4,54.0 498.7,54.5 498.9,56.0 499.1,54.5 499.3,55.0 499.5,54.7 499.7,53.8 500.0,54.4 500.2,52.7 500.4,54.0 500.6,52.3 500.8,53.1 501.1,52.1 501.3,53.3 501.5,53.1 501.7,53.5 501.9,51.8 502.1,51.3 502.4,50.1 502.6,50.7 503.7,51.1 504.8,51.0 505.8,50.0 506.9,49.9 508.0,48.2 509.1,48.3 510.2,49.7 511.3,49.3 512.4,47.2 513.5,48.0 514.6,48.3 515.7,46.8 516.8,48.2 517.8,47.9 518.9,48.0 520.0,49.3 521.1,46.6 522.2,48.4 523.3,47.8 524.4,47.9 525.5,46.5 526.6,47.2 527.6,47.1 528.7,48.6 529.8,47.1 530.9,48.3 532.0,46.7 533.1,46.6 534.2,46.9 535.3,45.0 536.4,46.4 537.5,46.3 538.5,46.7 539.6,47.0 540.7,46.0 541.8,45.8 542.9,48.0 544.0,45.9 545.1,46.4 546.2,45.9 547.3,46.4 548.4,48.0 549.4,47.9 550.5,45.1 551.6,46.6 552.7,48.1 553.8,46.5 554.9,47.1 556.0,48.5 557.1,48.9 558.2,48.3 559.3,46.5 560.3,46.8 561.4,47.0 562.5,46.5 563.6,46.2 564.7,48.7 565.8,47.1 566.9,47.6 568.0,47.9 569.1,47.3 570.2,46.9 571.2,47.0 572.3,48.1 573.4,47.2 574.5,44.9 575.6,47.8 576.7,48.3 577.8,46.5 578.9,46.2 580.0,46.4 581.1,47.8 582.1,45.9 583.2,47.5 584.3,47.8 585.4,47.3 586.5,46.9 587.6,46.1 588.7,46.2 589.8,46.8 590.9,45.9 592.0,46.7 593.0,46.0 594.1,48.1 595.2,48.2 596.3,46.1 597.4,48.1 598.5,47.1 599.6,46.9 600.7,47.2 601.8,47.2 602.9,45.5 603.9,49.1 605.0,46.0 606.1,44.7 607.2,46.8 608.3,46.8 609.4,46.1 610.5,45.1 611.6,47.9 612.7,46.7 613.8,47.0 614.8,46.3 615.9,46.6 617.0,46.2 618.1,47.2 619.2,46.7 620.3,47.4" fill="none" stroke="#e24a33" stroke-width="0.8" stroke-opacity="0.15" stroke-linejoin="round"/>
<polyline points="489.5,138.2 489.7,121.6 489.9,109.0 490.2,98.5 490.4,91.1 490.6,85.5 490.8,79.9 491.0,76.8 491.2,73.3 491.5,71.2 491.7,69.1 491.9,67.6 492.1,66.7 492.3,65.3 492.6,63.1 492.8,65.1 493.0,62.8 493.2,62.0 493.4,62.5 493.6,62.3 493.9,59.2 494.1,60.7 494.3,58.4 494.5,59.2 494.7,59.2 494.9,58.6 495.2,58.1 495.4,57.3 495.6,57.7 495.8,57.6 496.0,57.3 496.3,56.0 496.5,56.2 496.7,57.5 496.9,57.0 497.1,55.9 497.3,56.5 497.6,56.0 497.8,56.3 498.0,55.5 498.2,54.7 498.4,54.0 498.7,54.6 498.9,52.6 499.1,54.3 499.3,51.2 499.5,53.0 499.7,53.3 500.0,54.0 500.2,55.9 500.4,53.3 500.6,52.9 500.8,51.1 501.1,54.0 501.3,50.8 501.5,52.7 501.7,51.6 501.9,54.5 502.1,51.9 502.4,52.2 502.6,51.1 503.7,51.1 504.8,51.7 505.8,49.3 506.9,49.1 508.0,48.8 509.1,48.1 510.2,47.7 511.3,48.5 512.4,49.5 513.5,49.3 514.6,46.7 515.7,47.1 516.8,47.5 517.8,47.9 518.9,47.4 520.0,47.3 521.1,47.5 522.2,47.8 523.3,45.1 524.4,46.8 525.5,47.5 526.6,48.1 527.6,47.6 528.7,46.2 529.8,46.1 530.9,47.0 532.0,46.7 533.1,47.0 534.2,47.8 535.3,45.5 536.4,46.4 537.5,44.4 538.5,47.4 539.6,46.8 540.7,45.8 541.8,46.9 542.9,47.9 544.0,47.5 545.1,46.5 546.2,46.3 547.3,46.7 548.4,45.7 549.4,45.7 550.5,46.3 551.6,46.6 552.7,46.8 553.8,46.1 554.9,45.8 556.0,46.5 557.1,46.2 558.2,46.9 559.3,47.9 560.3,47.5 561.4,45.9 562.5,46.2 563.6,45.1 564.7,46.5 565.8,45.8 566.9,45.4 568.0,45.7 569.1,47.2 570.2,46.8 571.2,46.5 572.3,47.5 573.4,46.2 574.5,45.7 575.6,47.0 576.7,44.8 577.8,46.9 578.9,46.8 580.0,46.8 581.1,47.2 582.1,46.2 583.2,46.6 584.3,45.1 585.4,46.0 586.5,46.1 587.6,46.8 588.7,47.9 589.8,46.7 590.9,47.4 592.0,45.7 593.0,46.6 594.1,45.1 595.2,45.9 596.3,45.8 597.4,46.4 598.5,46.4 599.6,46.0 600.7,45.7 601.8,47.3 602.9,46.1 603.9,44.2 605.0,46.7 606.1,46.8 607.2,47.2 608.3,47.9 609.4,45.5 610.5,46.5 611.6,46.3 612.7,44.9 613.8,44.3 614.8,47.4 615.9,45.6 617.0,46.0 618.1,46.2 619.2,46.2 620.3,46.6" fill="none" stroke="#e24a33" stroke-width="0.8" stroke-opacity="0.15" stroke-linejoin="round"/>
<polyline points="489.5,138.2 489.7,121.4 489.9,108.2 490.2,98.1 490.4,90.2 490.6,84.0 490.8,78.6 491.0,75.2 491.2,72.3 491.5,70.2 491.7,67.9 491.9,66.7 492.1,64.6 492.3,63.4 492.6,63.9 492.8,61.7 493.0,60.5 493.2,60.2 493.4,60.4 493.6,58.3 493.9,59.2 494.1,59.2 494.3,58.7 494.5,57.4 494.7,56.2 494.9,55.7 495.2,56.2 495.4,57.0 495.6,56.2 495.8,56.1 496.0,55.2 496.3,56.3 496.5,54.4 496.7,53.7 496.9,54.1 497.1,53.3 497.3,54.3 497.6,54.5 497.8,53.6 498.0,51.7 498.2,51.6 498.4,52.7 498.7,51.0 498.9,52.2 499.1,50.4 499.3,51.1 499.5,51.7 499.7,50.4 500.0,51.7 500.2,51.7 500.4,52.0 500.6,50.2 500.8,50.4 501.1,50.2 501.3,50.4 501.5,48.5 501.7,50.1 501.9,50.2 502.1,48.3 502.4,48.0 502.6,48.8 503.7,50.1 504.8,48.6 505.8,47.0 506.9,47.1 508.0,45.3 509.1,47.7 510.2,45.5 511.3,46.5 512.4,44.4 513.5,45.5 514.6,44.3 515.7,45.7 516.8,46.3 517.8,45.9 518.9,45.3 520.0,45.6 521.1,43.5 522.2,43.3 523.3,44.2 524.4,45.4 525.5,44.5 526.6,45.0 527.6,42.9 528.7,44.0 529.8,43.8 530.9,44.6 532.0,46.0 533.1,44.9 534.2,45.2 535.3,43.8 536.4,44.0 537.5,44.8 538.5,44.4 539.6,42.6 540.7,44.9 541.8,44.9 542.9,44.3 544.0,44.7 545.1,44.4 546.2,43.5 547.3,42.4 548.4,45.7 549.4,44.0 550.5,44.0 551.6,44.1 552.7,44.2 553.8,44.3 554.9,43.1 556.0,44.4 557.1,44.1 558.2,44.0 559.3,43.9 560.3,44.2 561.4,43.1 562.5,44.0 563.6,43.8 564.7,44.0 565.8,44.9 566.9,44.8 568.0,45.0 569.1,43.8 570.2,44.7 571.2,45.0 572.3,43.8 573.4,43.5 574.5,45.6 575.6,42.4 576.7,44.0 577.8,44.1 578.9,43.0 580.0,43.9 581.1,44.5 582.1,42.0 583.2,45.0 584.3,44.1 585.4,43.2 586.5,45.0 587.6,44.1 588.7,43.6 589.8,41.8 590.9,44.8 592.0,44.0 593.0,43.4 594.1,43.9 595.2,45.1 596.3,43.6 597.4,43.9 598.5,43.6 599.6,42.9 600.7,43.1 601.8,43.6 602.9,43.7 603.9,45.0 605.0,44.1 606.1,43.8 607.2,44.4 608.3,43.9 609.4,44.8 610.5,42.6 611.6,42.0 612.7,44.4 613.8,43.6 614.8,44.2 615.9,42.8 617.0,43.6 618.1,43.9 619.2,44.2 620.3,43.9" fill="none" stroke="#e24a33" stroke-width="0.8" stroke-opacity="0.15" stroke-linejoin="round"/>
<polyline points="489.5,138.2 489.7,121.6 489.9,108.7 490.2,98.7 490.4,90.9 490.6,84.8 490.8,80.0 491.0,76.2 491.2,73.2 491.5,70.7 491.7,68.8 491.9,67.2 492.1,65.9 492.3,64.8 492.6,63.8 492.8,63.0 493.0,62.3 493.2,61.7 493.4,61.2 493.6,60.7 493.9,60.2 494.1,59.8 494.3,59.4 494.5,59.0 494.7,58.6 494.9,58.3 495.2,58.0 495.4,57.6 495.6,57.3 495.8,57.0 496.0,56.8 496.3,56.5 496.5,56.2 496.7,56.0 496.9,55.7 497.1,55.5 497.3,55.2 497.6,55.0 497.8,54.8 498.0,54.5 498.2,54.3 498.4,54.1 498.7,53.9 498.9,53.7 499.1,53.5 499.3,53.3 499.5,53.1 499.7,53.0 500.0,52.8 500.2,52.6 500.4,52.4 500.6,52.3 500.8,52.1 501.1,52.0 501.3,51.8 501.5,51.7 501.7,51.5 501.9,51.4 502.1,51.2 502.4,51.1 502.6,51.0 503.7,50.4 504.8,49.8 505.8,49.4 506.9,49.0 508.0,48.6 509.1,48.3 510.2,48.0 511.3,47.7 512.4,47.5 513.5,47.3 514.6,47.1 515.7,47.0 516.8,46.8 517.8,46.7 518.9,46.6 520.0,46.5 521.1,46.4 522.2,46.4 523.3,46.3 524.4,46.3 525.5,46.2 526.6,46.2 527.6,46.1 528.7,46.1 529.8,46.1 530.9,46.0 532.0,46.0 533.1,46.0 534.2,46.0 535.3,45.9 536.4,45.9 537.5,45.9 538.5,45.9 539.6,45.9 540.7,45.9 541.8,45.9 542.9,45.9 544.0,45.9 545.1,45.9 546.2,45.9 547.3,45.9 548.4,45.9 549.4,45.9 550.5,45.8 551.6,45.8 552.7,45.8 553.8,45.8 554.9,45.8 556.0,45.8 557.1,45.8 558.2,45.8 559.3,45.8 560.3,45.8 561.4,45.8 562.5,45.8 563.6,45.8 564.7,45.8 565.8,45.8 566.9,45.8 568.0,45.8 569.1,45.8 570.2,45.8 571.2,45.8 572.3,45.8 573.4,45.8 574.5,45.8 575.6,45.8 576.7,45.8 577.8,45.8 578.9,45.8 580.0,45.8 581.1,45.8 582.1,45.8 583.2,45.8 584.3,45.8 585.4,45.8 586.5,45.8 587.6,45.8 588.7,45.8 589.8,45.8 590.9,45.8 592.0,45.8 593.0,45.8 594.1,45.8 595.2,45.8 596.3,45.8 597.4,45.8 598.5,45.8 599.6,45.8 600.7,45.8 601.8,45.8 602.9,45.8 603.9,45.8 605.0,45.8 606.1,45.8 607.2,45.8 608.3,45.8 609.4,45.8 610.5,45.8 611.6,45.8 612.7,45.8 613.8,45.8 614.8,45.8 615.9,45.8 617.0,45.8 618.1,45.8 619.2,45.8 620.3,45.8" fill="none" stroke="#e24a33" stroke-width="4.2" stroke-opacity="1.0" stroke-linejoin="round"/>
<line x1="358.8" y1="11.20" x2="358.8" y2="166.40" stroke="#000" stroke-width="2.6"/>
<line x1="357.5" y1="165.10" x2="621.10" y2="165.10" stroke="#000" stroke-width="2.6"/>
<line x1="348" y1="165.10" x2="358.8" y2="165.10" stroke="#000" stroke-width="1.6"/>
<text x="313.76" y="171.20" font-size="20.08" textLength="23.05" lengthAdjust="spacingAndGlyphs" fill="#000">80</text>
<line x1="348" y1="88.15" x2="358.8" y2="88.15" stroke="#000" stroke-width="1.6"/>
<text x="313.59" y="94.25" font-size="20.08" textLength="23.23" lengthAdjust="spacingAndGlyphs" fill="#000">90</text>
<line x1="348" y1="11.20" x2="358.8" y2="11.20" stroke="#000" stroke-width="1.6"/>
<text x="301.92" y="17.30" font-size="20.08" textLength="34.89" lengthAdjust="spacingAndGlyphs" fill="#000">100</text>
<line x1="358.70" y1="165.1" x2="358.70" y2="175.4" stroke="#000" stroke-width="1.6"/>
<text x="353.20" y="201.20" font-size="20.08" textLength="10.99" lengthAdjust="spacingAndGlyphs" fill="#000">0</text>
<line x1="424.10" y1="165.1" x2="424.10" y2="175.4" stroke="#000" stroke-width="1.6"/>
<text x="406.27" y="201.20" font-size="20.08" textLength="34.89" lengthAdjust="spacingAndGlyphs" fill="#000">150</text>
<line x1="489.50" y1="165.1" x2="489.50" y2="175.4" stroke="#000" stroke-width="1.6"/>
<text x="472.15" y="201.20" font-size="20.08" textLength="34.72" lengthAdjust="spacingAndGlyphs" fill="#000">300</text>
<line x1="554.90" y1="165.1" x2="554.90" y2="175.4" stroke="#000" stroke-width="1.6"/>
<text x="537.61" y="201.20" font-size="20.08" textLength="34.93" lengthAdjust="spacingAndGlyphs" fill="#000">450</text>
<line x1="620.30" y1="165.1" x2="620.30" y2="175.4" stroke="#000" stroke-width="1.6"/>
<text x="602.61" y="201.20" font-size="20.08" textLength="35.13" lengthAdjust="spacingAndGlyphs" fill="#000">600</text>
<text x="395.89" y="224.70" font-size="23.00" textLength="187.35" lengthAdjust="spacingAndGlyphs" fill="#000">training episodes</text>
<text x="-52.68" y="0" transform="translate(294.90,88.15) rotate(-90)" font-size="23.00" textLength="104.65" lengthAdjust="spacingAndGlyphs" fill="#000">% correct</text>
<line x1="372.3" y1="28.6" x2="401.9" y2="28.6" stroke="#cccccc" stroke-width="3.1"/>
<text x="410.99" y="35.40" font-size="19.69" textLength="77.65" lengthAdjust="spacingAndGlyphs" fill="#000">Hebbian</text>
<line x1="372.3" y1="51.7" x2="401.9" y2="51.7" stroke="#1f77b4" stroke-width="3.1"/>
<text x="412.66" y="58.50" font-size="19.69" textLength="37.35" lengthAdjust="spacingAndGlyphs" fill="#000">ACh</text>
<line x1="372.3" y1="74.7" x2="401.9" y2="74.7" stroke="#e24a33" stroke-width="3.1"/>
<text x="411.11" y="81.50" font-size="19.69" textLength="26.89" lengthAdjust="spacingAndGlyphs" fill="#000">DA</text>
</svg></body></html>
